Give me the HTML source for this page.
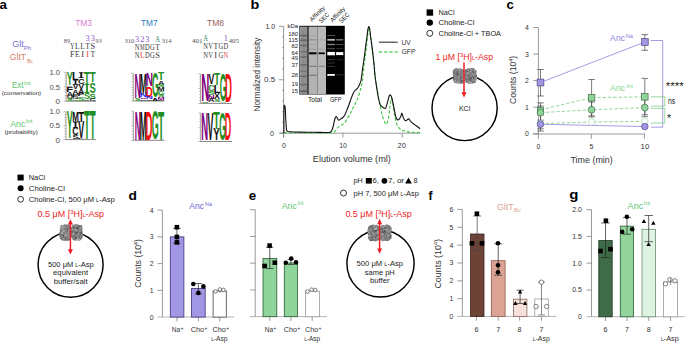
<!DOCTYPE html>
<html><head><meta charset="utf-8"><title>Figure</title>
<style>
html,body{margin:0;padding:0;background:#fff;width:685px;height:343px;overflow:hidden}
svg{display:block;font-family:"Liberation Sans",sans-serif}
</style></head><body>
<svg width="685" height="343" viewBox="0 0 685 343">
<text transform="translate(-0.6,8.8) scale(1.12,1)" font-size="12" font-weight="bold" fill="#000">a</text>
<text transform="translate(250.6,8.8) scale(1.2,1)" font-size="12" font-weight="bold" fill="#000">b</text>
<text transform="translate(506.6,8.8) scale(1.1,1)" font-size="12" font-weight="bold" fill="#000">c</text>
<text transform="translate(128.6,199.6) scale(1.15,1)" font-size="12" font-weight="bold" fill="#000">d</text>
<text transform="translate(248.7,199.8) scale(1.12,1)" font-size="12" font-weight="bold" fill="#000">e</text>
<text transform="translate(428.4,199.5) scale(1.0,1)" font-size="12" font-weight="bold" fill="#000">f</text>
<text transform="translate(569.3,199.4) scale(1.25,1)" font-size="12" font-weight="bold" fill="#000">g</text>
<text x="75.2" y="26.3" font-size="8.5" fill="#e07ad4" textLength="16.8" lengthAdjust="spacingAndGlyphs">TM3</text>
<text x="141" y="26.3" font-size="8.5" fill="#2f7ec4" textLength="16.7" lengthAdjust="spacingAndGlyphs">TM7</text>
<text x="207" y="26.3" font-size="8.5" fill="#9e6358" textLength="17" lengthAdjust="spacingAndGlyphs">TM8</text>
<text x="12.2" y="47.4" font-size="8.4" fill="#7a6fd8" textLength="11.5" lengthAdjust="spacingAndGlyphs">Glt</text>
<text x="23.8" y="49.7" font-size="5.6" fill="#7a6fd8" textLength="7.4" lengthAdjust="spacingAndGlyphs">Ph</text>
<text x="9.8" y="59.7" font-size="8.4" fill="#d4806c" textLength="16.3" lengthAdjust="spacingAndGlyphs">GltT</text>
<text x="26.9" y="62.5" font-size="5.6" fill="#d4806c" textLength="6" lengthAdjust="spacingAndGlyphs">Bc</text>
<text x="11.9" y="88.1" font-size="8.4" fill="#5cc46a" textLength="11.7" lengthAdjust="spacingAndGlyphs">Ext</text>
<text x="24.1" y="84.6" font-size="5.3" fill="#5cc46a" textLength="6.5" lengthAdjust="spacingAndGlyphs">Int</text>
<text x="1.8" y="95" font-size="6.2" fill="#333" textLength="39.4" lengthAdjust="spacingAndGlyphs">(conservation)</text>
<text x="10.3" y="127.4" font-size="8.4" fill="#5cc46a" textLength="15" lengthAdjust="spacingAndGlyphs">Anc</text>
<text x="25.9" y="123.3" font-size="5.3" fill="#5cc46a" textLength="6.5" lengthAdjust="spacingAndGlyphs">Int</text>
<text x="4.4" y="134" font-size="6.2" fill="#333" textLength="33.5" lengthAdjust="spacingAndGlyphs">(probability)</text>
<text x="60" y="75.1" font-size="8" fill="#4a4a4a" text-anchor="end" textLength="10.6" lengthAdjust="spacingAndGlyphs">1.0</text>
<text x="60" y="89.55" font-size="8" fill="#4a4a4a" text-anchor="end" textLength="10.6" lengthAdjust="spacingAndGlyphs">0.5</text>
<text x="60" y="104" font-size="8" fill="#4a4a4a" text-anchor="end">0</text>
<text x="60" y="113.5" font-size="8" fill="#4a4a4a" text-anchor="end" textLength="10.6" lengthAdjust="spacingAndGlyphs">1.0</text>
<text x="60" y="128.1" font-size="8" fill="#4a4a4a" text-anchor="end" textLength="10.6" lengthAdjust="spacingAndGlyphs">0.5</text>
<text x="60" y="142.7" font-size="8" fill="#4a4a4a" text-anchor="end">0</text>
<text x="63.8" y="43.4" font-size="5.4" fill="#555" font-family="Liberation Serif" textLength="6.2" lengthAdjust="spacingAndGlyphs">89</text>
<text x="72.35" y="48.9" font-size="8.4" fill="#3a3a3a" text-anchor="middle" font-family="Liberation Serif" textLength="4.7" lengthAdjust="spacingAndGlyphs">Y</text>
<text x="77.45" y="48.9" font-size="8.4" fill="#3a3a3a" text-anchor="middle" font-family="Liberation Serif" textLength="4.7" lengthAdjust="spacingAndGlyphs">L</text>
<text x="82.55" y="48.9" font-size="8.4" fill="#3a3a3a" text-anchor="middle" font-family="Liberation Serif" textLength="4.7" lengthAdjust="spacingAndGlyphs">L</text>
<text x="87.65" y="48.9" font-size="8.4" fill="#3a3a3a" text-anchor="middle" font-family="Liberation Serif" textLength="4.7" lengthAdjust="spacingAndGlyphs">T</text>
<text x="92.75" y="48.9" font-size="8.4" fill="#3a3a3a" text-anchor="middle" font-family="Liberation Serif">S</text>
<text x="72.35" y="57.2" font-size="8.4" fill="#3a3a3a" text-anchor="middle" font-family="Liberation Serif">F</text>
<text x="77.45" y="57.2" font-size="8.4" fill="#3a3a3a" text-anchor="middle" font-family="Liberation Serif" textLength="4.7" lengthAdjust="spacingAndGlyphs">E</text>
<text x="82.55" y="57.2" font-size="8.4" fill="#3a3a3a" text-anchor="middle" font-family="Liberation Serif">I</text>
<text x="87.65" y="57.2" font-size="8.4" fill="#e8433a" text-anchor="middle" font-family="Liberation Serif">I</text>
<text x="92.75" y="57.2" font-size="8.4" fill="#3a3a3a" text-anchor="middle" font-family="Liberation Serif" textLength="4.7" lengthAdjust="spacingAndGlyphs">T</text>
<text x="87.65" y="41.4" font-size="8.4" fill="#8a55c8" text-anchor="middle" font-family="Liberation Serif">3</text>
<text x="92.75" y="41.4" font-size="8.4" fill="#8a55c8" text-anchor="middle" font-family="Liberation Serif">3</text>
<text x="95.6" y="43.4" font-size="5.4" fill="#555" font-family="Liberation Serif" textLength="6.1" lengthAdjust="spacingAndGlyphs">93</text>
<text x="124.5" y="43.4" font-size="5.4" fill="#555" font-family="Liberation Serif" textLength="9.9" lengthAdjust="spacingAndGlyphs">310</text>
<text x="137.15" y="49.8" font-size="8.4" fill="#3a3a3a" text-anchor="middle" font-family="Liberation Serif" textLength="4.7" lengthAdjust="spacingAndGlyphs">N</text>
<text x="142.25" y="49.8" font-size="8.4" fill="#3a3a3a" text-anchor="middle" font-family="Liberation Serif" textLength="4.7" lengthAdjust="spacingAndGlyphs">M</text>
<text x="147.35" y="49.8" font-size="8.4" fill="#3a3a3a" text-anchor="middle" font-family="Liberation Serif" textLength="4.7" lengthAdjust="spacingAndGlyphs">D</text>
<text x="152.45" y="49.8" font-size="8.4" fill="#3a3a3a" text-anchor="middle" font-family="Liberation Serif" textLength="4.7" lengthAdjust="spacingAndGlyphs">G</text>
<text x="157.55" y="49.8" font-size="8.4" fill="#3a3a3a" text-anchor="middle" font-family="Liberation Serif" textLength="4.7" lengthAdjust="spacingAndGlyphs">T</text>
<text x="137.15" y="57.8" font-size="8.4" fill="#3a3a3a" text-anchor="middle" font-family="Liberation Serif" textLength="4.7" lengthAdjust="spacingAndGlyphs">N</text>
<text x="142.25" y="57.8" font-size="8.4" fill="#e8433a" text-anchor="middle" font-family="Liberation Serif" textLength="4.7" lengthAdjust="spacingAndGlyphs">L</text>
<text x="147.35" y="57.8" font-size="8.4" fill="#3a3a3a" text-anchor="middle" font-family="Liberation Serif" textLength="4.7" lengthAdjust="spacingAndGlyphs">D</text>
<text x="152.45" y="57.8" font-size="8.4" fill="#3a3a3a" text-anchor="middle" font-family="Liberation Serif" textLength="4.7" lengthAdjust="spacingAndGlyphs">G</text>
<text x="157.55" y="57.8" font-size="8.4" fill="#3a3a3a" text-anchor="middle" font-family="Liberation Serif">S</text>
<text x="137.15" y="41.9" font-size="8.4" fill="#8a55c8" text-anchor="middle" font-family="Liberation Serif">3</text>
<text x="142.25" y="41.9" font-size="8.4" fill="#8a55c8" text-anchor="middle" font-family="Liberation Serif">2</text>
<text x="147.35" y="41.9" font-size="8.4" fill="#8a55c8" text-anchor="middle" font-family="Liberation Serif">3</text>
<text x="157.55" y="41.9" font-size="8.4" fill="#2e8a52" text-anchor="middle" font-family="Liberation Serif" textLength="4.7" lengthAdjust="spacingAndGlyphs">A</text>
<text x="161.7" y="43.4" font-size="5.4" fill="#555" font-family="Liberation Serif" textLength="9.9" lengthAdjust="spacingAndGlyphs">314</text>
<text x="191.9" y="43.4" font-size="5.4" fill="#555" font-family="Liberation Serif" textLength="10.6" lengthAdjust="spacingAndGlyphs">401</text>
<text x="205.55" y="49.3" font-size="8.4" fill="#3a3a3a" text-anchor="middle" font-family="Liberation Serif" textLength="4.7" lengthAdjust="spacingAndGlyphs">N</text>
<text x="210.65" y="49.3" font-size="8.4" fill="#3a3a3a" text-anchor="middle" font-family="Liberation Serif" textLength="4.7" lengthAdjust="spacingAndGlyphs">V</text>
<text x="215.75" y="49.3" font-size="8.4" fill="#3a3a3a" text-anchor="middle" font-family="Liberation Serif" textLength="4.7" lengthAdjust="spacingAndGlyphs">T</text>
<text x="220.85" y="49.3" font-size="8.4" fill="#3a3a3a" text-anchor="middle" font-family="Liberation Serif" textLength="4.7" lengthAdjust="spacingAndGlyphs">G</text>
<text x="225.95" y="49.3" font-size="8.4" fill="#3a3a3a" text-anchor="middle" font-family="Liberation Serif" textLength="4.7" lengthAdjust="spacingAndGlyphs">D</text>
<text x="205.55" y="57.8" font-size="8.4" fill="#3a3a3a" text-anchor="middle" font-family="Liberation Serif" textLength="4.7" lengthAdjust="spacingAndGlyphs">N</text>
<text x="210.65" y="57.8" font-size="8.4" fill="#3a3a3a" text-anchor="middle" font-family="Liberation Serif" textLength="4.7" lengthAdjust="spacingAndGlyphs">V</text>
<text x="215.75" y="57.8" font-size="8.4" fill="#3a3a3a" text-anchor="middle" font-family="Liberation Serif">I</text>
<text x="220.85" y="57.8" font-size="8.4" fill="#3a3a3a" text-anchor="middle" font-family="Liberation Serif" textLength="4.7" lengthAdjust="spacingAndGlyphs">G</text>
<text x="225.95" y="57.8" font-size="8.4" fill="#e8433a" text-anchor="middle" font-family="Liberation Serif" textLength="4.7" lengthAdjust="spacingAndGlyphs">N</text>
<text x="205.55" y="41.4" font-size="8.4" fill="#2e8a52" text-anchor="middle" font-family="Liberation Serif" textLength="4.7" lengthAdjust="spacingAndGlyphs">A</text>
<text x="225.95" y="41.4" font-size="8.4" fill="#8a55c8" text-anchor="middle" font-family="Liberation Serif">1</text>
<text x="228.7" y="43.4" font-size="5.4" fill="#555" font-family="Liberation Serif" textLength="10.3" lengthAdjust="spacingAndGlyphs">405</text>
<line x1="66.2" y1="72.3" x2="66.2" y2="101.2" stroke="#666" stroke-width="0.6" />
<line x1="66.2" y1="101.2" x2="96" y2="101.2" stroke="#555" stroke-width="0.7" />
<line x1="63.8" y1="72.3" x2="66.2" y2="72.3" stroke="#777" stroke-width="0.5" />
<line x1="64.7" y1="75.19" x2="66.2" y2="75.19" stroke="#777" stroke-width="0.5" />
<line x1="64.7" y1="78.08" x2="66.2" y2="78.08" stroke="#777" stroke-width="0.5" />
<line x1="64.7" y1="80.97" x2="66.2" y2="80.97" stroke="#777" stroke-width="0.5" />
<line x1="64.7" y1="83.86" x2="66.2" y2="83.86" stroke="#777" stroke-width="0.5" />
<line x1="63.8" y1="86.75" x2="66.2" y2="86.75" stroke="#777" stroke-width="0.5" />
<line x1="64.7" y1="89.64" x2="66.2" y2="89.64" stroke="#777" stroke-width="0.5" />
<line x1="64.7" y1="92.53" x2="66.2" y2="92.53" stroke="#777" stroke-width="0.5" />
<line x1="64.7" y1="95.42" x2="66.2" y2="95.42" stroke="#777" stroke-width="0.5" />
<line x1="64.7" y1="98.31" x2="66.2" y2="98.31" stroke="#777" stroke-width="0.5" />
<line x1="63.8" y1="101.2" x2="66.2" y2="101.2" stroke="#777" stroke-width="0.5" />
<text transform="translate(66.85,85.3) scale(0.0899,0.1875)" font-size="100" font-weight="bold" fill="#1f8f22">Y</text>
<text transform="translate(66.94,87.2) scale(0.0872,0.0247)" font-size="100" font-weight="bold" fill="#111111">V</text>
<text transform="translate(66.25,92.1) scale(0.1124,0.0683)" font-size="100" font-weight="bold" fill="#111111">F</text>
<text transform="translate(66.79,95.6) scale(0.0850,0.0480)" font-size="100" font-weight="bold" fill="#111111">A</text>
<text transform="translate(66.66,97.98) scale(0.0820,0.0313)" font-size="100" font-weight="bold" fill="#111111">Q</text>
<text transform="translate(66.73,100.87) scale(0.0951,0.0297)" font-size="100" font-weight="bold" fill="#1f8f22">S</text>
<text transform="translate(71.97,80) scale(0.1091,0.1105)" font-size="100" font-weight="bold" fill="#111111">L</text>
<rect x="73.15" y="80.2" width="4.7" height="0.6" fill="#111111" stroke="none" stroke-width="0.8" />
<rect x="73.15" y="84.2" width="4.7" height="0.6" fill="#111111" stroke="none" stroke-width="0.8" />
<rect x="74.6" y="80.2" width="1.79" height="4.6" fill="#111111" stroke="none" stroke-width="0.8" />
<text transform="translate(72.64,89.4) scale(0.0857,0.0640)" font-size="100" font-weight="bold" fill="#111111">V</text>
<text transform="translate(72.49,93.6) scale(0.0835,0.0581)" font-size="100" font-weight="bold" fill="#111111">A</text>
<text transform="translate(72.04,96.6) scale(0.0990,0.0407)" font-size="100" font-weight="bold" fill="#111111">P</text>
<text transform="translate(72.36,98.97) scale(0.0830,0.0311)" font-size="100" font-weight="bold" fill="#111111">G</text>
<text transform="translate(72.43,100.88) scale(0.0935,0.0254)" font-size="100" font-weight="bold" fill="#1f8f22">S</text>
<rect x="78.77" y="72.4" width="4.96" height="0.73" fill="#111111" stroke="none" stroke-width="0.8" />
<rect x="78.77" y="77.27" width="4.96" height="0.73" fill="#111111" stroke="none" stroke-width="0.8" />
<rect x="80.31" y="72.4" width="1.89" height="5.6" fill="#111111" stroke="none" stroke-width="0.8" />
<text transform="translate(77.93,83.72) scale(0.0902,0.0791)" font-size="100" font-weight="bold" fill="#111111">C</text>
<text transform="translate(78.24,88.8) scale(0.0903,0.0698)" font-size="100" font-weight="bold" fill="#111111">V</text>
<text transform="translate(78.08,93.6) scale(0.0879,0.0669)" font-size="100" font-weight="bold" fill="#111111">A</text>
<text transform="translate(77.6,96.4) scale(0.1043,0.0378)" font-size="100" font-weight="bold" fill="#111111">P</text>
<text transform="translate(78.02,100.84) scale(0.0985,0.0607)" font-size="100" font-weight="bold" fill="#1f8f22">S</text>
<text transform="translate(84.09,83.6) scale(0.0951,0.1628)" font-size="100" font-weight="bold" fill="#1f8f22">T</text>
<rect x="84.65" y="83.8" width="4.7" height="1.2" fill="#1f8f22" stroke="none" stroke-width="0.8" />
<rect x="84.65" y="91.8" width="4.7" height="1.2" fill="#1f8f22" stroke="none" stroke-width="0.8" />
<rect x="86.1" y="83.8" width="1.79" height="9.2" fill="#1f8f22" stroke="none" stroke-width="0.8" />
<text transform="translate(83.93,98.92) scale(0.0935,0.0819)" font-size="100" font-weight="bold" fill="#1f8f22">S</text>
<text transform="translate(83.85,100.88) scale(0.0857,0.0254)" font-size="100" font-weight="bold" fill="#111111">C</text>
<text transform="translate(89.69,82) scale(0.0968,0.1395)" font-size="100" font-weight="bold" fill="#1f8f22">T</text>
<text transform="translate(89.53,92.85) scale(0.0951,0.1525)" font-size="100" font-weight="bold" fill="#1f8f22">S</text>
<text transform="translate(89.53,98.72) scale(0.0951,0.0791)" font-size="100" font-weight="bold" fill="#1f8f22">S</text>
<text transform="translate(89.44,100.87) scale(0.0872,0.0282)" font-size="100" font-weight="bold" fill="#111111">C</text>
<line x1="66" y1="111.7" x2="66" y2="139.6" stroke="#666" stroke-width="0.6" />
<line x1="66" y1="139.6" x2="96" y2="139.6" stroke="#555" stroke-width="0.7" />
<line x1="63.6" y1="111.7" x2="66" y2="111.7" stroke="#777" stroke-width="0.5" />
<line x1="64.5" y1="114.49" x2="66" y2="114.49" stroke="#777" stroke-width="0.5" />
<line x1="64.5" y1="117.28" x2="66" y2="117.28" stroke="#777" stroke-width="0.5" />
<line x1="64.5" y1="120.07" x2="66" y2="120.07" stroke="#777" stroke-width="0.5" />
<line x1="64.5" y1="122.86" x2="66" y2="122.86" stroke="#777" stroke-width="0.5" />
<line x1="63.6" y1="125.65" x2="66" y2="125.65" stroke="#777" stroke-width="0.5" />
<line x1="64.5" y1="128.44" x2="66" y2="128.44" stroke="#777" stroke-width="0.5" />
<line x1="64.5" y1="131.23" x2="66" y2="131.23" stroke="#777" stroke-width="0.5" />
<line x1="64.5" y1="134.02" x2="66" y2="134.02" stroke="#777" stroke-width="0.5" />
<line x1="64.5" y1="136.81" x2="66" y2="136.81" stroke="#777" stroke-width="0.5" />
<line x1="63.6" y1="139.6" x2="66" y2="139.6" stroke="#777" stroke-width="0.5" />
<text transform="translate(66.85,137.9) scale(0.0899,0.3794)" font-size="100" font-weight="bold" fill="#1f8f22">Y</text>
<text transform="translate(72.16,121.6) scale(0.0801,0.1424)" font-size="100" font-weight="bold" fill="#111111">M</text>
<rect x="73.15" y="121.8" width="4.7" height="0.81" fill="#111111" stroke="none" stroke-width="0.8" />
<rect x="73.15" y="127.19" width="4.7" height="0.81" fill="#111111" stroke="none" stroke-width="0.8" />
<rect x="74.6" y="121.8" width="1.79" height="6.2" fill="#111111" stroke="none" stroke-width="0.8" />
<text transform="translate(72.35,135.3) scale(0.0857,0.1017)" font-size="100" font-weight="bold" fill="#111111">C</text>
<text transform="translate(72.43,139.25) scale(0.0935,0.0523)" font-size="100" font-weight="bold" fill="#111111">S</text>
<text transform="translate(78.19,121.6) scale(0.1002,0.1424)" font-size="100" font-weight="bold" fill="#111111">T</text>
<text transform="translate(78.24,137.9) scale(0.0903,0.2340)" font-size="100" font-weight="bold" fill="#111111">V</text>
<text transform="translate(77.53,139.4) scale(0.1150,0.0203)" font-size="100" font-weight="bold" fill="#111111">L</text>
<text transform="translate(84.09,139.4) scale(0.0951,0.4012)" font-size="100" font-weight="bold" fill="#1f8f22">T</text>
<text transform="translate(89.69,139.4) scale(0.0968,0.4012)" font-size="100" font-weight="bold" fill="#1f8f22">T</text>
<line x1="133.3" y1="73.3" x2="133.3" y2="101" stroke="#666" stroke-width="0.6" />
<line x1="133.3" y1="101" x2="164.5" y2="101" stroke="#555" stroke-width="0.7" />
<line x1="130.9" y1="73.3" x2="133.3" y2="73.3" stroke="#777" stroke-width="0.5" />
<line x1="131.8" y1="76.07" x2="133.3" y2="76.07" stroke="#777" stroke-width="0.5" />
<line x1="131.8" y1="78.84" x2="133.3" y2="78.84" stroke="#777" stroke-width="0.5" />
<line x1="131.8" y1="81.61" x2="133.3" y2="81.61" stroke="#777" stroke-width="0.5" />
<line x1="131.8" y1="84.38" x2="133.3" y2="84.38" stroke="#777" stroke-width="0.5" />
<line x1="130.9" y1="87.15" x2="133.3" y2="87.15" stroke="#777" stroke-width="0.5" />
<line x1="131.8" y1="89.92" x2="133.3" y2="89.92" stroke="#777" stroke-width="0.5" />
<line x1="131.8" y1="92.69" x2="133.3" y2="92.69" stroke="#777" stroke-width="0.5" />
<line x1="131.8" y1="95.46" x2="133.3" y2="95.46" stroke="#777" stroke-width="0.5" />
<line x1="131.8" y1="98.23" x2="133.3" y2="98.23" stroke="#777" stroke-width="0.5" />
<line x1="130.9" y1="101" x2="133.3" y2="101" stroke="#777" stroke-width="0.5" />
<text transform="translate(134.5,98.1) scale(0.0902,0.3590)" font-size="100" font-weight="bold" fill="#800080">N</text>
<text transform="translate(134.85,100.77) scale(0.0885,0.0353)" font-size="100" font-weight="bold" fill="#1f8f22">S</text>
<text transform="translate(139.83,93.9) scale(0.0858,0.2980)" font-size="100" font-weight="bold" fill="#111111">M</text>
<text transform="translate(139.72,97.3) scale(0.1021,0.0465)" font-size="100" font-weight="bold" fill="#2a2ae8">N</text>
<text transform="translate(140.11,98.98) scale(0.1001,0.0212)" font-size="100" font-weight="bold" fill="#800080">S</text>
<text transform="translate(140.02,100.78) scale(0.0918,0.0240)" font-size="100" font-weight="bold" fill="#111111">C</text>
<text transform="translate(145.73,86.4) scale(0.1004,0.1890)" font-size="100" font-weight="bold" fill="#800080">N</text>
<text transform="translate(145.76,96.7) scale(0.0962,0.1468)" font-size="100" font-weight="bold" fill="#fa0a0a">D</text>
<text transform="translate(145.73,99.3) scale(0.1004,0.0349)" font-size="100" font-weight="bold" fill="#2a2ae8">N</text>
<text transform="translate(146.03,100.78) scale(0.0902,0.0198)" font-size="100" font-weight="bold" fill="#111111">C</text>
<text transform="translate(151.95,97.27) scale(0.0860,0.3418)" font-size="100" font-weight="bold" fill="#1f8f22">G</text>
<text transform="translate(152.08,100.8) scale(0.0865,0.0436)" font-size="100" font-weight="bold" fill="#111111">A</text>
<text transform="translate(157.99,80.4) scale(0.1019,0.1017)" font-size="100" font-weight="bold" fill="#1f8f22">T</text>
<text transform="translate(157.88,84.9) scale(0.0894,0.0625)" font-size="100" font-weight="bold" fill="#111111">A</text>
<text transform="translate(157.81,87.27) scale(0.1001,0.0311)" font-size="100" font-weight="bold" fill="#1f8f22">S</text>
<text transform="translate(157.53,91.3) scale(0.0858,0.0552)" font-size="100" font-weight="bold" fill="#111111">M</text>
<text transform="translate(157.74,94.75) scale(0.0889,0.0466)" font-size="100" font-weight="bold" fill="#1f8f22">G</text>
<text transform="translate(157.81,97.17) scale(0.1001,0.0311)" font-size="100" font-weight="bold" fill="#1f8f22">S</text>
<text transform="translate(157.53,99.6) scale(0.0858,0.0320)" font-size="100" font-weight="bold" fill="#800080">M</text>
<text transform="translate(157.72,100.78) scale(0.0918,0.0155)" font-size="100" font-weight="bold" fill="#111111">C</text>
<line x1="133.4" y1="111.2" x2="133.4" y2="140.3" stroke="#666" stroke-width="0.6" />
<line x1="133.4" y1="140.3" x2="164.5" y2="140.3" stroke="#555" stroke-width="0.7" />
<line x1="131" y1="111.2" x2="133.4" y2="111.2" stroke="#777" stroke-width="0.5" />
<line x1="131.9" y1="114.11" x2="133.4" y2="114.11" stroke="#777" stroke-width="0.5" />
<line x1="131.9" y1="117.02" x2="133.4" y2="117.02" stroke="#777" stroke-width="0.5" />
<line x1="131.9" y1="119.93" x2="133.4" y2="119.93" stroke="#777" stroke-width="0.5" />
<line x1="131.9" y1="122.84" x2="133.4" y2="122.84" stroke="#777" stroke-width="0.5" />
<line x1="131" y1="125.75" x2="133.4" y2="125.75" stroke="#777" stroke-width="0.5" />
<line x1="131.9" y1="128.66" x2="133.4" y2="128.66" stroke="#777" stroke-width="0.5" />
<line x1="131.9" y1="131.57" x2="133.4" y2="131.57" stroke="#777" stroke-width="0.5" />
<line x1="131.9" y1="134.48" x2="133.4" y2="134.48" stroke="#777" stroke-width="0.5" />
<line x1="131.9" y1="137.39" x2="133.4" y2="137.39" stroke="#777" stroke-width="0.5" />
<line x1="131" y1="140.3" x2="133.4" y2="140.3" stroke="#777" stroke-width="0.5" />
<text transform="translate(134.73,139.6) scale(0.0850,0.4099)" font-size="100" font-weight="bold" fill="#800080">N</text>
<text transform="translate(139.75,139.6) scale(0.0830,0.4099)" font-size="100" font-weight="bold" fill="#111111">M</text>
<text transform="translate(145.46,139.6) scale(0.0962,0.4099)" font-size="100" font-weight="bold" fill="#fa0a0a">D</text>
<text transform="translate(151.64,139.21) scale(0.0889,0.3983)" font-size="100" font-weight="bold" fill="#1f8f22">G</text>
<text transform="translate(157.89,139.6) scale(0.1019,0.4099)" font-size="100" font-weight="bold" fill="#1f8f22">T</text>
<line x1="200.6" y1="74" x2="200.6" y2="103.4" stroke="#666" stroke-width="0.6" />
<line x1="200.6" y1="103.4" x2="232" y2="103.4" stroke="#555" stroke-width="0.7" />
<line x1="198.2" y1="74" x2="200.6" y2="74" stroke="#777" stroke-width="0.5" />
<line x1="199.1" y1="76.94" x2="200.6" y2="76.94" stroke="#777" stroke-width="0.5" />
<line x1="199.1" y1="79.88" x2="200.6" y2="79.88" stroke="#777" stroke-width="0.5" />
<line x1="199.1" y1="82.82" x2="200.6" y2="82.82" stroke="#777" stroke-width="0.5" />
<line x1="199.1" y1="85.76" x2="200.6" y2="85.76" stroke="#777" stroke-width="0.5" />
<line x1="198.2" y1="88.7" x2="200.6" y2="88.7" stroke="#777" stroke-width="0.5" />
<line x1="199.1" y1="91.64" x2="200.6" y2="91.64" stroke="#777" stroke-width="0.5" />
<line x1="199.1" y1="94.58" x2="200.6" y2="94.58" stroke="#777" stroke-width="0.5" />
<line x1="199.1" y1="97.52" x2="200.6" y2="97.52" stroke="#777" stroke-width="0.5" />
<line x1="199.1" y1="100.46" x2="200.6" y2="100.46" stroke="#777" stroke-width="0.5" />
<line x1="198.2" y1="103.4" x2="200.6" y2="103.4" stroke="#777" stroke-width="0.5" />
<text transform="translate(201.15,101.2) scale(0.1123,0.3953)" font-size="100" font-weight="bold" fill="#800080">N</text>
<text transform="translate(201.58,102.78) scale(0.1101,0.0212)" font-size="100" font-weight="bold" fill="#1f8f22">S</text>
<text transform="translate(208.44,84.4) scale(0.0872,0.1512)" font-size="100" font-weight="bold" fill="#111111">V</text>
<text transform="translate(208.14,91.11) scale(0.0872,0.0932)" font-size="100" font-weight="bold" fill="#1f8f22">C</text>
<text transform="translate(208.23,95.34) scale(0.0951,0.0565)" font-size="100" font-weight="bold" fill="#1f8f22">S</text>
<text transform="translate(207.85,99) scale(0.0970,0.0494)" font-size="100" font-weight="bold" fill="#800080">N</text>
<text transform="translate(208.29,102.4) scale(0.0850,0.0465)" font-size="100" font-weight="bold" fill="#111111">A</text>
<text transform="translate(214.09,85.4) scale(0.0985,0.1657)" font-size="100" font-weight="bold" fill="#1f8f22">T</text>
<text transform="translate(213.44,93.1) scale(0.1130,0.1090)" font-size="100" font-weight="bold" fill="#111111">L</text>
<text transform="translate(214.12,99.4) scale(0.0893,0.0887)" font-size="100" font-weight="bold" fill="#111111">X</text>
<text transform="translate(213.92,102.36) scale(0.0968,0.0395)" font-size="100" font-weight="bold" fill="#1f8f22">S</text>
<text transform="translate(219.65,101.02) scale(0.0845,0.3870)" font-size="100" font-weight="bold" fill="#1f8f22">G</text>
<text transform="translate(219.79,102.8) scale(0.0850,0.0189)" font-size="100" font-weight="bold" fill="#1f8f22">A</text>
<text transform="translate(225.06,101.6) scale(0.0962,0.4012)" font-size="100" font-weight="bold" fill="#fa0a0a">D</text>
<line x1="200.8" y1="113" x2="200.8" y2="141.5" stroke="#666" stroke-width="0.6" />
<line x1="200.8" y1="141.5" x2="232" y2="141.5" stroke="#555" stroke-width="0.7" />
<line x1="198.4" y1="113" x2="200.8" y2="113" stroke="#777" stroke-width="0.5" />
<line x1="199.3" y1="115.85" x2="200.8" y2="115.85" stroke="#777" stroke-width="0.5" />
<line x1="199.3" y1="118.7" x2="200.8" y2="118.7" stroke="#777" stroke-width="0.5" />
<line x1="199.3" y1="121.55" x2="200.8" y2="121.55" stroke="#777" stroke-width="0.5" />
<line x1="199.3" y1="124.4" x2="200.8" y2="124.4" stroke="#777" stroke-width="0.5" />
<line x1="198.4" y1="127.25" x2="200.8" y2="127.25" stroke="#777" stroke-width="0.5" />
<line x1="199.3" y1="130.1" x2="200.8" y2="130.1" stroke="#777" stroke-width="0.5" />
<line x1="199.3" y1="132.95" x2="200.8" y2="132.95" stroke="#777" stroke-width="0.5" />
<line x1="199.3" y1="135.8" x2="200.8" y2="135.8" stroke="#777" stroke-width="0.5" />
<line x1="199.3" y1="138.65" x2="200.8" y2="138.65" stroke="#777" stroke-width="0.5" />
<line x1="198.4" y1="141.5" x2="200.8" y2="141.5" stroke="#777" stroke-width="0.5" />
<text transform="translate(201.36,140.2) scale(0.0953,0.3939)" font-size="100" font-weight="bold" fill="#800080">N</text>
<text transform="translate(207.54,140.2) scale(0.0888,0.3939)" font-size="100" font-weight="bold" fill="#111111">V</text>
<text transform="translate(213.28,129.2) scale(0.1053,0.2340)" font-size="100" font-weight="bold" fill="#1f8f22">T</text>
<text transform="translate(213.23,140.2) scale(0.0978,0.1570)" font-size="100" font-weight="bold" fill="#111111">Y</text>
<text transform="translate(219.25,139.82) scale(0.0845,0.3828)" font-size="100" font-weight="bold" fill="#1f8f22">G</text>
<text transform="translate(224.7,140.2) scale(0.0897,0.3939)" font-size="100" font-weight="bold" fill="#fa0a0a">D</text>
<line x1="283.6" y1="26.3" x2="283.6" y2="137.5" stroke="#707070" stroke-width="0.7" />
<line x1="278.9" y1="133.2" x2="283.6" y2="133.2" stroke="#707070" stroke-width="0.7" />
<line x1="282" y1="122.51" x2="283.6" y2="122.51" stroke="#707070" stroke-width="0.6" />
<line x1="282" y1="111.82" x2="283.6" y2="111.82" stroke="#707070" stroke-width="0.6" />
<line x1="282" y1="101.13" x2="283.6" y2="101.13" stroke="#707070" stroke-width="0.6" />
<line x1="282" y1="90.44" x2="283.6" y2="90.44" stroke="#707070" stroke-width="0.6" />
<line x1="278.9" y1="79.75" x2="283.6" y2="79.75" stroke="#707070" stroke-width="0.7" />
<line x1="282" y1="69.06" x2="283.6" y2="69.06" stroke="#707070" stroke-width="0.6" />
<line x1="282" y1="58.37" x2="283.6" y2="58.37" stroke="#707070" stroke-width="0.6" />
<line x1="282" y1="47.68" x2="283.6" y2="47.68" stroke="#707070" stroke-width="0.6" />
<line x1="282" y1="36.99" x2="283.6" y2="36.99" stroke="#707070" stroke-width="0.6" />
<line x1="278.9" y1="26.3" x2="283.6" y2="26.3" stroke="#707070" stroke-width="0.7" />
<text x="275.2" y="28.8" font-size="7" fill="#333" text-anchor="end" textLength="9.8" lengthAdjust="spacingAndGlyphs">1.0</text>
<text x="275.2" y="82.2" font-size="7" fill="#333" text-anchor="end" textLength="11.2" lengthAdjust="spacingAndGlyphs">0.5</text>
<text x="274" y="135.6" font-size="7" fill="#333" text-anchor="end">0</text>
<line x1="280.1" y1="133.2" x2="420.2" y2="133.2" stroke="#707070" stroke-width="0.7" />
<line x1="283.6" y1="133.2" x2="283.6" y2="137.5" stroke="#707070" stroke-width="0.7" />
<line x1="342.9" y1="133.2" x2="342.9" y2="137.5" stroke="#707070" stroke-width="0.7" />
<line x1="402.3" y1="133.2" x2="402.3" y2="137.5" stroke="#707070" stroke-width="0.7" />
<text x="284" y="147.7" font-size="7" fill="#333" text-anchor="middle">0</text>
<text x="343.1" y="147.7" font-size="7" fill="#333" text-anchor="middle" textLength="7.6" lengthAdjust="spacingAndGlyphs">10</text>
<text x="401.7" y="147.7" font-size="7" fill="#333" text-anchor="middle" textLength="8.2" lengthAdjust="spacingAndGlyphs">20</text>
<text x="312.8" y="161.9" font-size="9" fill="#333" textLength="78" lengthAdjust="spacingAndGlyphs">Elution volume (ml)</text>
<text transform="translate(259.8,74.5) rotate(-90)" x="0" y="0" font-size="8.3" fill="#333" text-anchor="middle" textLength="73.8" lengthAdjust="spacingAndGlyphs">Normalized intensity</text>
<path d="M283.9,133 C284.92,132.97 287.32,132.83 290,132.8 C292.68,132.77 295.83,132.78 300,132.8 C304.17,132.82 310.83,132.87 315,132.9 C319.17,132.93 322.33,133.02 325,133 C327.67,132.98 329.67,132.92 331,132.8 C332.33,132.68 332.33,132.53 333,132.3 C333.67,132.07 334.33,132.03 335,131.4 C335.67,130.77 336.37,129.25 337,128.5 C337.63,127.75 338.05,127.48 338.8,126.9 C339.55,126.32 340.55,125.65 341.5,125 C342.45,124.35 343.5,124.08 344.5,123 C345.5,121.92 346.55,120.07 347.5,118.5 C348.45,116.93 349.45,115.02 350.2,113.6 C350.95,112.18 351.37,111.27 352,110 C352.63,108.73 353.33,107.33 354,106 C354.67,104.67 355.38,103.27 356,102 C356.62,100.73 357.17,99.73 357.7,98.4 C358.23,97.07 358.72,95.57 359.2,94 C359.68,92.43 360.2,90.58 360.6,89 C361,87.42 361.27,86 361.6,84.5 C361.93,83 362.23,82.92 362.6,80 C362.97,77.08 363.32,71.18 363.8,67 C364.28,62.82 365.03,58.57 365.5,54.9 C365.97,51.23 366.27,47.92 366.6,45 C366.93,42.08 367.25,39.73 367.5,37.4 C367.75,35.07 367.9,32.7 368.1,31 C368.3,29.3 368.45,27.62 368.7,27.2 C368.95,26.78 369.27,26.8 369.6,28.5 C369.93,30.2 370.13,33 370.7,37.4 C371.27,41.8 372.18,47.8 373,54.9 C373.82,62 374.83,73.8 375.6,80 C376.37,86.2 376.9,88.12 377.6,92.1 C378.3,96.08 379.05,100.13 379.8,103.9 C380.55,107.67 381.32,111.7 382.1,114.7 C382.88,117.7 383.8,120.33 384.5,121.9 C385.2,123.47 385.65,124.7 386.3,124.1 C386.95,123.5 387.75,121.52 388.4,118.3 C389.05,115.08 389.68,108.1 390.2,104.8 C390.72,101.5 391.03,98.5 391.5,98.5 C391.97,98.5 392.45,101.95 393,104.8 C393.55,107.65 394.2,112.45 394.8,115.6 C395.4,118.75 395.85,121.6 396.6,123.7 C397.35,125.8 398.25,127.05 399.3,128.2 C400.35,129.35 401.4,129.98 402.9,130.6 C404.4,131.22 406.45,131.58 408.3,131.9 C410.15,132.22 412.02,132.35 414,132.5 C415.98,132.65 419.17,132.75 420.2,132.8" stroke="#3cc43c" fill="none" stroke-width="1.1" stroke-dasharray="3.2 1.8" stroke-linejoin="round"/>
<path d="M283.9,133 C283.92,128.77 283.78,111.8 284,107.6 C284.22,103.4 284.9,105.73 285.2,107.8 C285.5,109.87 285.58,116.38 285.8,120 C286.02,123.62 286.22,127.62 286.5,129.5 C286.78,131.38 286.92,130.92 287.5,131.3 C288.08,131.68 287.92,131.67 290,131.8 C292.08,131.93 295.83,132.02 300,132.1 C304.17,132.18 310.83,132.23 315,132.3 C319.17,132.37 322.5,132.52 325,132.5 C327.5,132.48 328.83,132.62 330,132.2 C331.17,131.78 331.42,131.2 332,130 C332.58,128.8 333,126.92 333.5,125 C334,123.08 334.55,119.97 335,118.5 C335.45,117.03 335.78,116.2 336.2,116.2 C336.62,116.2 337.07,117.83 337.5,118.5 C337.93,119.17 338.13,120.2 338.8,120.2 C339.47,120.2 340.55,119.28 341.5,118.5 C342.45,117.72 343.5,117.17 344.5,115.5 C345.5,113.83 346.55,110.87 347.5,108.5 C348.45,106.13 349.45,103.35 350.2,101.3 C350.95,99.25 351.37,97.78 352,96.2 C352.63,94.62 353.33,92.9 354,91.8 C354.67,90.7 355.38,90.23 356,89.6 C356.62,88.97 357.13,88.8 357.7,88 C358.27,87.2 358.83,86.13 359.4,84.8 C359.97,83.47 360.6,82.47 361.1,80 C361.6,77.53 361.98,73 362.4,70 C362.82,67 363.23,64.52 363.6,62 C363.97,59.48 364.23,57.73 364.6,54.9 C364.97,52.07 365.42,47.92 365.8,45 C366.18,42.08 366.57,39.9 366.9,37.4 C367.23,34.9 367.52,31.8 367.8,30 C368.08,28.2 368.3,26.85 368.6,26.6 C368.9,26.35 369.25,26.7 369.6,28.5 C369.95,30.3 370.32,34.48 370.7,37.4 C371.08,40.32 371.52,43.08 371.9,46 C372.28,48.92 372.6,51.4 373,54.9 C373.4,58.4 373.98,63.65 374.3,67 C374.62,70.35 374.5,71.57 374.9,75 C375.3,78.43 376.1,83.68 376.7,87.6 C377.3,91.52 377.9,95.63 378.5,98.5 C379.1,101.37 379.55,103.3 380.3,104.8 C381.05,106.3 382.1,106.97 383,107.5 C383.9,108.03 384.95,108.9 385.7,108 C386.45,107.1 386.9,104.13 387.5,102.1 C388.1,100.07 388.78,96.95 389.3,95.8 C389.82,94.65 390.15,94.75 390.6,95.2 C391.05,95.65 391.45,96.45 392,98.5 C392.55,100.55 393.28,104.5 393.9,107.5 C394.52,110.5 395.1,114.45 395.7,116.5 C396.3,118.55 396.9,119.35 397.5,119.8 C398.1,120.25 398.7,119.9 399.3,119.2 C399.9,118.5 400.65,116.58 401.1,115.6 C401.55,114.62 401.65,113 402,113.3 C402.35,113.6 402.75,116.27 403.2,117.4 C403.65,118.53 404.15,119.58 404.7,120.1 C405.25,120.62 405.83,120.7 406.5,120.5 C407.17,120.3 407.95,118.67 408.7,118.9 C409.45,119.13 410.02,120.95 411,121.9 C411.98,122.85 413.4,123.7 414.6,124.6 C415.8,125.5 417.27,126.62 418.2,127.3 C419.13,127.98 419.87,128.47 420.2,128.7" stroke="#111" fill="none" stroke-width="1.1" stroke-linejoin="round"/>
<line x1="378.9" y1="42.2" x2="397.7" y2="42.2" stroke="#333" stroke-width="1.1" />
<line x1="378.9" y1="52" x2="397.7" y2="52" stroke="#5fd35f" stroke-width="1.3" stroke-dasharray="3.2 2.1"/>
<text x="401.4" y="44.9" font-size="7.8" fill="#333" textLength="9.4" lengthAdjust="spacingAndGlyphs">UV</text>
<text x="401.4" y="54.3" font-size="7.8" fill="#333" textLength="14.3" lengthAdjust="spacingAndGlyphs">GFP</text>
<rect x="299.2" y="25.8" width="45.6" height="68.7" fill="#000" stroke="none" stroke-width="0.8" />
<defs><linearGradient id="lad" x1="0" x2="1" y1="0" y2="0"><stop offset="0" stop-color="#9c9c9c"/><stop offset="0.5" stop-color="#8a8a8a"/><stop offset="1" stop-color="#929292"/></linearGradient><filter id="glow" x="-20%" y="-100%" width="140%" height="300%"><feGaussianBlur stdDeviation="0.45"/></filter></defs>
<rect x="299.5" y="26.6" width="8" height="67.6" fill="url(#lad)" stroke="none" stroke-width="0.8" />
<rect x="300.3" y="34.8" width="6.6" height="1.6" fill="#555" stroke="none" stroke-width="0.8" opacity="0.8" filter="url(#glow)"/>
<rect x="300.3" y="39.5" width="6.6" height="1.6" fill="#555" stroke="none" stroke-width="0.8" opacity="0.8" filter="url(#glow)"/>
<rect x="300.3" y="44.7" width="6.6" height="1.6" fill="#555" stroke="none" stroke-width="0.8" opacity="0.7" filter="url(#glow)"/>
<rect x="300.3" y="51" width="6.6" height="1.6" fill="#555" stroke="none" stroke-width="0.8" opacity="0.5" filter="url(#glow)"/>
<rect x="300.3" y="56.3" width="6.6" height="1.6" fill="#555" stroke="none" stroke-width="0.8" opacity="0.6" filter="url(#glow)"/>
<rect x="300.3" y="64.1" width="6.6" height="1.6" fill="#555" stroke="none" stroke-width="0.8" opacity="0.6" filter="url(#glow)"/>
<rect x="300.3" y="70.5" width="6.6" height="1.6" fill="#555" stroke="none" stroke-width="0.8" opacity="0.4" filter="url(#glow)"/>
<rect x="300.3" y="75.5" width="6.6" height="1.6" fill="#555" stroke="none" stroke-width="0.8" opacity="0.6" filter="url(#glow)"/>
<rect x="300.3" y="83.8" width="6.6" height="1.6" fill="#555" stroke="none" stroke-width="0.8" opacity="0.6" filter="url(#glow)"/>
<rect x="300.3" y="90.5" width="6.6" height="1.6" fill="#555" stroke="none" stroke-width="0.8" opacity="0.9" filter="url(#glow)"/>
<rect x="307.5" y="26.6" width="1.2" height="67.6" fill="#444" stroke="none" stroke-width="0.8" />
<rect x="308.7" y="26.6" width="8.8" height="67.6" fill="#b3b3b3" stroke="none" stroke-width="0.8" />
<rect x="317.5" y="26.6" width="8.5" height="67.6" fill="#b9b9b9" stroke="none" stroke-width="0.8" />
<rect x="309.1" y="52.3" width="7.5" height="2" fill="#000" stroke="none" stroke-width="0.8" opacity="1" filter="url(#glow)"/>
<rect x="318.4" y="52.4" width="6.4" height="1.8" fill="#000" stroke="none" stroke-width="0.8" opacity="0.95" filter="url(#glow)"/>
<rect x="309.1" y="65.8" width="7.5" height="1" fill="#707070" stroke="none" stroke-width="0.8" opacity="0.9" filter="url(#glow)"/>
<rect x="318.4" y="65.8" width="6.4" height="1" fill="#707070" stroke="none" stroke-width="0.8" opacity="0.8" filter="url(#glow)"/>
<rect x="309.1" y="74.65" width="7.5" height="1.1" fill="#6a6a6a" stroke="none" stroke-width="0.8" opacity="0.9" filter="url(#glow)"/>
<rect x="309.1" y="39.2" width="7.5" height="1.2" fill="#8a8a8a" stroke="none" stroke-width="0.8" opacity="0.8" filter="url(#glow)"/>
<rect x="318.4" y="39.3" width="6.4" height="1" fill="#9a9a9a" stroke="none" stroke-width="0.8" opacity="0.6" filter="url(#glow)"/>
<rect x="309.1" y="44" width="7.5" height="1" fill="#9a9a9a" stroke="none" stroke-width="0.8" opacity="0.6" filter="url(#glow)"/>
<rect x="309.1" y="48.75" width="7.5" height="0.9" fill="#8a8a8a" stroke="none" stroke-width="0.8" opacity="0.7" filter="url(#glow)"/>
<rect x="318.4" y="48.75" width="6.4" height="0.9" fill="#8a8a8a" stroke="none" stroke-width="0.8" opacity="0.6" filter="url(#glow)"/>
<rect x="309.1" y="35.5" width="7.5" height="1" fill="#9e9e9e" stroke="none" stroke-width="0.8" opacity="0.6" filter="url(#glow)"/>
<rect x="327.3" y="51.9" width="7.6" height="3.4" fill="#fff" stroke="none" stroke-width="0.8" opacity="1" filter="url(#glow)"/>
<rect x="336.1" y="52.1" width="7.2" height="3" fill="#fff" stroke="none" stroke-width="0.8" opacity="1" filter="url(#glow)"/>
<rect x="327.3" y="74" width="7.6" height="1.8" fill="#fff" stroke="none" stroke-width="0.8" opacity="1" filter="url(#glow)"/>
<rect x="336.1" y="74.4" width="7.2" height="1" fill="#383838" stroke="none" stroke-width="0.8" opacity="1" filter="url(#glow)"/>
<rect x="327.3" y="38.9" width="7.6" height="1.8" fill="#b8b8b8" stroke="none" stroke-width="0.8" opacity="1" filter="url(#glow)"/>
<rect x="336.1" y="39.15" width="7.2" height="1.3" fill="#808080" stroke="none" stroke-width="0.8" opacity="1" filter="url(#glow)"/>
<rect x="327.3" y="43.9" width="7.6" height="1.2" fill="#8a8a8a" stroke="none" stroke-width="0.8" opacity="1" filter="url(#glow)"/>
<rect x="336.1" y="44" width="7.2" height="1" fill="#505050" stroke="none" stroke-width="0.8" opacity="1" filter="url(#glow)"/>
<rect x="327.3" y="48.2" width="7.6" height="1" fill="#555" stroke="none" stroke-width="0.8" opacity="1" filter="url(#glow)"/>
<rect x="336.1" y="48.3" width="7.2" height="0.8" fill="#3a3a3a" stroke="none" stroke-width="0.8" opacity="1" filter="url(#glow)"/>
<rect x="327.3" y="35.1" width="7.6" height="1" fill="#555" stroke="none" stroke-width="0.8" opacity="1" filter="url(#glow)"/>
<rect x="327.3" y="59.25" width="7.6" height="0.9" fill="#404040" stroke="none" stroke-width="0.8" opacity="1" filter="url(#glow)"/>
<rect x="327.3" y="62.55" width="7.6" height="0.9" fill="#383838" stroke="none" stroke-width="0.8" opacity="1" filter="url(#glow)"/>
<rect x="327.3" y="65.85" width="7.6" height="0.9" fill="#3a3a3a" stroke="none" stroke-width="0.8" opacity="1" filter="url(#glow)"/>
<rect x="336.1" y="59.3" width="7.2" height="0.8" fill="#2a2a2a" stroke="none" stroke-width="0.8" opacity="1" filter="url(#glow)"/>
<text x="298" y="27.6" font-size="5.9" fill="#222" text-anchor="end">kDa</text>
<text x="298" y="36.3" font-size="5.9" fill="#222" text-anchor="end">180</text>
<text x="298" y="42.2" font-size="5.9" fill="#222" text-anchor="end">115</text>
<text x="298" y="48" font-size="5.9" fill="#222" text-anchor="end">82</text>
<text x="298" y="55" font-size="5.9" fill="#222" text-anchor="end">64</text>
<text x="298" y="60" font-size="5.9" fill="#222" text-anchor="end">49</text>
<text x="298" y="67.1" font-size="5.9" fill="#222" text-anchor="end">37</text>
<text x="298" y="77.1" font-size="5.9" fill="#222" text-anchor="end">28</text>
<text x="298" y="85.9" font-size="5.9" fill="#222" text-anchor="end">19</text>
<text x="298" y="93.4" font-size="5.9" fill="#222" text-anchor="end">15</text>
<text x="308" y="102" font-size="6.8" fill="#222" textLength="14" lengthAdjust="spacingAndGlyphs">Total</text>
<text x="329.9" y="102" font-size="6.8" fill="#222" textLength="11.7" lengthAdjust="spacingAndGlyphs">GFP</text>
<text transform="translate(312.0,22.0) rotate(-45)" font-size="6.2" fill="#222" textLength="19.0" lengthAdjust="spacingAndGlyphs">Affinity</text>
<text transform="translate(321.2,23.4) rotate(-45)" font-size="6.2" fill="#222" textLength="12.0" lengthAdjust="spacingAndGlyphs">SEC</text>
<text transform="translate(332.4,22.6) rotate(-45)" font-size="6.2" fill="#222" textLength="19.0" lengthAdjust="spacingAndGlyphs">Affinity</text>
<text transform="translate(341.5,23.6) rotate(-45)" font-size="6.2" fill="#222" textLength="12.0" lengthAdjust="spacingAndGlyphs">SEC</text>
<rect x="426.6" y="9.4" width="6.5" height="6.3" fill="#000" stroke="none" stroke-width="0.8" />
<text x="438.4" y="15.1" font-size="7.2" fill="#222" textLength="16.3" lengthAdjust="spacingAndGlyphs">NaCl</text>
<circle cx="429.8" cy="22.6" r="3.2" fill="#000" stroke="none" stroke-width="0.8" />
<text x="438.4" y="25.2" font-size="7.2" fill="#222" textLength="36" lengthAdjust="spacingAndGlyphs">Choline-Cl</text>
<circle cx="429.8" cy="33.3" r="3" fill="#fff" stroke="#000" stroke-width="0.8" />
<text x="438.6" y="35.7" font-size="7.2" fill="#222" textLength="62.4" lengthAdjust="spacingAndGlyphs">Choline-Cl + TBOA</text>
<circle cx="464.6" cy="108" r="32.6" fill="none" stroke="#000" stroke-width="1.45" />
<defs><clipPath id="pc1"><path d="M464.35,76.05 L464.81,79.27 L464.05,80.35 L463.96,81.65 L463.69,82.82 L463.02,83.6 L461.73,83.39 L460.33,83.54 L457.19,83.21 L455.79,83.22 L454.99,82.61 L454.14,82.31 L453.77,81.36 L453.02,80.66 L452.76,79.21 L453.04,76.05 L452.8,72.91 L452.86,71.3 L452.99,69.92 L453.91,69.49 L454.6,68.8 L455.6,68.43 L457.1,68.5 L460.35,68.47 L461.62,68.99 L462.73,69 L463.22,69.92 L464.38,70 L464.15,71.66 L464.25,73.12 Z M477.05,76.05 L476.77,79.33 L476.31,80.68 L475.79,81.63 L475.72,83.07 L474.56,83.05 L473.46,83.1 L472.21,83.64 L468.88,83.96 L467.59,83.33 L466.84,82.61 L465.71,82.68 L465.54,81.44 L464.41,81.04 L464.26,79.4 L464.62,76.05 L464.93,73.06 L465.1,71.63 L464.77,69.84 L465.95,69.74 L466.68,69.21 L467.62,68.83 L468.94,68.46 L472.37,67.72 L473.81,68.16 L474.75,68.72 L474.98,70.05 L476.33,69.9 L476.66,71.13 L476.46,72.93 Z "/></clipPath></defs>
<path d="M464.35,76.05 L464.81,79.27 L464.05,80.35 L463.96,81.65 L463.69,82.82 L463.02,83.6 L461.73,83.39 L460.33,83.54 L457.19,83.21 L455.79,83.22 L454.99,82.61 L454.14,82.31 L453.77,81.36 L453.02,80.66 L452.76,79.21 L453.04,76.05 L452.8,72.91 L452.86,71.3 L452.99,69.92 L453.91,69.49 L454.6,68.8 L455.6,68.43 L457.1,68.5 L460.35,68.47 L461.62,68.99 L462.73,69 L463.22,69.92 L464.38,70 L464.15,71.66 L464.25,73.12 Z M477.05,76.05 L476.77,79.33 L476.31,80.68 L475.79,81.63 L475.72,83.07 L474.56,83.05 L473.46,83.1 L472.21,83.64 L468.88,83.96 L467.59,83.33 L466.84,82.61 L465.71,82.68 L465.54,81.44 L464.41,81.04 L464.26,79.4 L464.62,76.05 L464.93,73.06 L465.1,71.63 L464.77,69.84 L465.95,69.74 L466.68,69.21 L467.62,68.83 L468.94,68.46 L472.37,67.72 L473.81,68.16 L474.75,68.72 L474.98,70.05 L476.33,69.9 L476.66,71.13 L476.46,72.93 Z " fill="#828282"/>
<g clip-path="url(#pc1)">
<circle cx="452.76" cy="70.33" r="1.01" fill="#707070"/>
<circle cx="455.4" cy="78.72" r="0.81" fill="#848484"/>
<circle cx="453.22" cy="77.92" r="0.63" fill="#4e4e4e"/>
<circle cx="467.35" cy="71.41" r="0.96" fill="#a8a8a8"/>
<circle cx="458.21" cy="73.75" r="0.62" fill="#a8a8a8"/>
<circle cx="473.94" cy="79.19" r="0.6" fill="#707070"/>
<circle cx="467.62" cy="80.87" r="0.5" fill="#707070"/>
<circle cx="453.37" cy="83.39" r="0.62" fill="#848484"/>
<circle cx="459.38" cy="75.77" r="0.51" fill="#767676"/>
<circle cx="473.44" cy="71.6" r="0.57" fill="#b4b4b4"/>
<circle cx="460.44" cy="69.28" r="0.69" fill="#5e5e5e"/>
<circle cx="462.09" cy="77.98" r="1.14" fill="#5e5e5e"/>
<circle cx="453.65" cy="81.98" r="0.49" fill="#a8a8a8"/>
<circle cx="457.22" cy="73.99" r="0.65" fill="#5e5e5e"/>
<circle cx="460.85" cy="79.33" r="0.56" fill="#9a9a9a"/>
<circle cx="457.21" cy="73.66" r="1.01" fill="#707070"/>
<circle cx="462.07" cy="80.14" r="0.95" fill="#767676"/>
<circle cx="467.22" cy="74.85" r="0.78" fill="#b4b4b4"/>
<circle cx="454.34" cy="81.77" r="0.85" fill="#767676"/>
<circle cx="471.61" cy="69.26" r="0.43" fill="#6a6a6a"/>
<circle cx="467" cy="69.96" r="1.09" fill="#848484"/>
<circle cx="460.12" cy="70.78" r="0.41" fill="#b4b4b4"/>
<circle cx="454.18" cy="81.75" r="0.88" fill="#767676"/>
<circle cx="476.05" cy="77.42" r="0.98" fill="#6a6a6a"/>
<circle cx="467.58" cy="71.39" r="1.03" fill="#4e4e4e"/>
<circle cx="464.45" cy="84.12" r="0.5" fill="#6a6a6a"/>
<circle cx="473.77" cy="81.57" r="0.4" fill="#5e5e5e"/>
<circle cx="473.73" cy="82.04" r="0.8" fill="#707070"/>
<circle cx="470.75" cy="73.61" r="0.59" fill="#848484"/>
<circle cx="467.63" cy="75.12" r="0.6" fill="#b4b4b4"/>
<circle cx="473.14" cy="70.56" r="0.4" fill="#5e5e5e"/>
<circle cx="464.35" cy="73.55" r="0.57" fill="#707070"/>
<circle cx="457.38" cy="79.55" r="0.77" fill="#767676"/>
<circle cx="464.1" cy="70.92" r="0.86" fill="#707070"/>
<circle cx="463.18" cy="80.93" r="0.71" fill="#5e5e5e"/>
<circle cx="456.63" cy="68.52" r="0.92" fill="#a8a8a8"/>
<circle cx="453.34" cy="78.68" r="0.81" fill="#6a6a6a"/>
<circle cx="460.06" cy="78.82" r="1.13" fill="#5e5e5e"/>
<circle cx="458.77" cy="84.18" r="0.48" fill="#5e5e5e"/>
<circle cx="457.66" cy="81.49" r="0.58" fill="#b4b4b4"/>
<circle cx="473.13" cy="69.08" r="0.95" fill="#848484"/>
<circle cx="466.41" cy="79.18" r="0.74" fill="#4e4e4e"/>
<circle cx="467.86" cy="76.52" r="1.14" fill="#848484"/>
<circle cx="471.94" cy="71.04" r="0.81" fill="#9a9a9a"/>
<circle cx="471.15" cy="77.9" r="0.82" fill="#767676"/>
<circle cx="467.57" cy="68.28" r="0.59" fill="#4e4e4e"/>
<circle cx="461.99" cy="70.72" r="0.72" fill="#848484"/>
<circle cx="464.46" cy="83.71" r="0.59" fill="#4e4e4e"/>
<circle cx="467.45" cy="75.18" r="0.67" fill="#4e4e4e"/>
<circle cx="452.57" cy="72.15" r="0.55" fill="#4e4e4e"/>
<circle cx="468.01" cy="77.12" r="0.8" fill="#4e4e4e"/>
<circle cx="465.76" cy="68.39" r="1.13" fill="#4e4e4e"/>
<circle cx="463.09" cy="76.84" r="0.58" fill="#707070"/>
<circle cx="459.2" cy="75.52" r="0.89" fill="#b4b4b4"/>
<circle cx="472.28" cy="78.74" r="0.48" fill="#767676"/>
<circle cx="464.49" cy="81.85" r="0.88" fill="#4e4e4e"/>
<circle cx="460.65" cy="80.6" r="0.79" fill="#767676"/>
<circle cx="454.98" cy="82.3" r="1.12" fill="#6a6a6a"/>
<circle cx="462.64" cy="76.89" r="0.73" fill="#a8a8a8"/>
<circle cx="472.99" cy="69.65" r="0.83" fill="#767676"/>
<circle cx="463.38" cy="74.72" r="1.15" fill="#848484"/>
<circle cx="467.14" cy="72.19" r="0.43" fill="#9a9a9a"/>
<circle cx="470.6" cy="82.89" r="1.12" fill="#b4b4b4"/>
<circle cx="467.24" cy="70.07" r="0.42" fill="#5e5e5e"/>
<circle cx="468.76" cy="82.32" r="1.09" fill="#b4b4b4"/>
<circle cx="470.41" cy="71.59" r="0.78" fill="#a8a8a8"/>
<circle cx="470.12" cy="74.4" r="0.65" fill="#6a6a6a"/>
<circle cx="463.57" cy="80.39" r="0.54" fill="#a8a8a8"/>
<circle cx="455.03" cy="77.49" r="0.54" fill="#9a9a9a"/>
<circle cx="452.98" cy="75.98" r="0.73" fill="#767676"/>
<circle cx="464.61" cy="70.82" r="0.77" fill="#767676"/>
<circle cx="461.08" cy="70.82" r="0.78" fill="#9a9a9a"/>
<circle cx="472.03" cy="67.86" r="0.53" fill="#a8a8a8"/>
<circle cx="474.23" cy="77.58" r="0.73" fill="#6a6a6a"/>
<circle cx="454.54" cy="77.16" r="0.78" fill="#b4b4b4"/>
<circle cx="473.56" cy="71.43" r="0.52" fill="#848484"/>
<circle cx="466.69" cy="69.89" r="0.74" fill="#6a6a6a"/>
<circle cx="469.51" cy="70.42" r="0.62" fill="#5e5e5e"/>
<circle cx="459.34" cy="78.53" r="1" fill="#a8a8a8"/>
<circle cx="473.98" cy="77.54" r="0.79" fill="#4e4e4e"/>
<circle cx="463.65" cy="72.82" r="0.79" fill="#5e5e5e"/>
<circle cx="460.23" cy="68.58" r="1.07" fill="#9a9a9a"/>
<circle cx="464.63" cy="78.39" r="0.81" fill="#707070"/>
<circle cx="463.73" cy="72.5" r="0.61" fill="#b4b4b4"/>
<circle cx="476.2" cy="77.7" r="0.95" fill="#6a6a6a"/>
<circle cx="468.65" cy="76.37" r="0.68" fill="#a8a8a8"/>
<circle cx="468.41" cy="70.6" r="0.63" fill="#9a9a9a"/>
<circle cx="467.97" cy="77.23" r="0.98" fill="#a8a8a8"/>
<circle cx="460.47" cy="77.93" r="1.03" fill="#5e5e5e"/>
<circle cx="470.58" cy="78.29" r="0.93" fill="#4e4e4e"/>
<circle cx="463.65" cy="83.27" r="0.5" fill="#a8a8a8"/>
<circle cx="461.96" cy="81.19" r="1.03" fill="#4e4e4e"/>
<circle cx="459.86" cy="75.7" r="0.85" fill="#5e5e5e"/>
<circle cx="463.12" cy="78.93" r="0.89" fill="#b4b4b4"/>
<circle cx="464.12" cy="79.78" r="0.8" fill="#6a6a6a"/>
<circle cx="473" cy="80.4" r="0.89" fill="#a8a8a8"/>
<circle cx="457.68" cy="74.42" r="1.09" fill="#4e4e4e"/>
<circle cx="456.08" cy="70.44" r="0.52" fill="#848484"/>
<circle cx="455.2" cy="80.15" r="1.04" fill="#767676"/>
<circle cx="453.37" cy="72.84" r="0.44" fill="#4e4e4e"/>
<circle cx="474.09" cy="83.46" r="0.63" fill="#5e5e5e"/>
<circle cx="454.76" cy="72.91" r="0.67" fill="#6a6a6a"/>
<circle cx="459.26" cy="69.74" r="0.71" fill="#a8a8a8"/>
<circle cx="459.12" cy="82.73" r="0.87" fill="#9a9a9a"/>
<circle cx="472.2" cy="70.74" r="0.8" fill="#9a9a9a"/>
<circle cx="474.93" cy="78.28" r="0.43" fill="#b4b4b4"/>
<circle cx="470.86" cy="69.43" r="0.88" fill="#a8a8a8"/>
<circle cx="465.29" cy="71.49" r="1.07" fill="#767676"/>
<circle cx="465.67" cy="73.79" r="0.73" fill="#707070"/>
<circle cx="454.01" cy="81.69" r="0.51" fill="#6a6a6a"/>
<circle cx="473.47" cy="83.3" r="0.95" fill="#767676"/>
<circle cx="463.53" cy="81.53" r="1.08" fill="#9a9a9a"/>
<circle cx="457.21" cy="72.37" r="1.08" fill="#6a6a6a"/>
<circle cx="469.45" cy="78.58" r="1.1" fill="#5e5e5e"/>
<circle cx="466.72" cy="76.8" r="1.1" fill="#9a9a9a"/>
<circle cx="460.71" cy="75.97" r="0.5" fill="#5e5e5e"/>
<circle cx="466.05" cy="82.67" r="1.05" fill="#6a6a6a"/>
<circle cx="475.53" cy="81.09" r="0.86" fill="#a8a8a8"/>
<circle cx="466.87" cy="75.77" r="0.7" fill="#848484"/>
<circle cx="455.48" cy="79.06" r="0.46" fill="#b4b4b4"/>
<circle cx="454.97" cy="80.99" r="1.04" fill="#a8a8a8"/>
<circle cx="476.18" cy="78.22" r="1.11" fill="#b4b4b4"/>
<circle cx="470.87" cy="83.96" r="1.07" fill="#b4b4b4"/>
<circle cx="459.65" cy="68.01" r="0.74" fill="#b4b4b4"/>
<circle cx="467.99" cy="81.77" r="0.72" fill="#a8a8a8"/>
<circle cx="469.68" cy="69.37" r="0.67" fill="#9a9a9a"/>
<circle cx="463.64" cy="71.48" r="0.88" fill="#6a6a6a"/>
<circle cx="467.19" cy="76.02" r="1.11" fill="#767676"/>
<circle cx="464.75" cy="70.29" r="0.41" fill="#a8a8a8"/>
<circle cx="455.45" cy="69.43" r="0.87" fill="#767676"/>
<circle cx="459.67" cy="76.99" r="1.11" fill="#848484"/>
<circle cx="460.15" cy="77.74" r="0.78" fill="#848484"/>
<circle cx="472.57" cy="74.55" r="0.95" fill="#a8a8a8"/>
<circle cx="466.77" cy="78.09" r="0.46" fill="#9a9a9a"/>
<circle cx="465.45" cy="76.19" r="0.47" fill="#848484"/>
<circle cx="455.96" cy="79.71" r="0.46" fill="#707070"/>
<circle cx="458.21" cy="83.68" r="0.43" fill="#4e4e4e"/>
<circle cx="473.89" cy="71.22" r="1.08" fill="#b4b4b4"/>
<circle cx="470.08" cy="79.09" r="0.54" fill="#4e4e4e"/>
<circle cx="463.84" cy="74.68" r="0.49" fill="#b4b4b4"/>
<circle cx="468.16" cy="70.38" r="0.75" fill="#b4b4b4"/>
<circle cx="461.08" cy="83.8" r="1.01" fill="#5e5e5e"/>
<circle cx="453.45" cy="68.21" r="1.07" fill="#6a6a6a"/>
<circle cx="470.8" cy="80.21" r="1.02" fill="#6a6a6a"/>
<circle cx="473.25" cy="71.79" r="0.98" fill="#4e4e4e"/>
<circle cx="472.64" cy="76.68" r="0.57" fill="#848484"/>
<circle cx="476.47" cy="68.06" r="0.67" fill="#6a6a6a"/>
<circle cx="475.11" cy="76.18" r="0.5" fill="#9a9a9a"/>
<circle cx="474.79" cy="74.4" r="0.79" fill="#b4b4b4"/>
<circle cx="470.95" cy="70.38" r="0.41" fill="#5e5e5e"/>
<circle cx="474.04" cy="73.99" r="1.07" fill="#848484"/>
<circle cx="468.72" cy="68.35" r="0.88" fill="#5e5e5e"/>
<circle cx="467.88" cy="73.09" r="0.79" fill="#b4b4b4"/>
<circle cx="476.62" cy="83.81" r="0.58" fill="#767676"/>
<circle cx="468.37" cy="76.26" r="1.09" fill="#6a6a6a"/>
<circle cx="476.39" cy="75.74" r="0.91" fill="#6a6a6a"/>
<circle cx="468.11" cy="81.7" r="1.11" fill="#848484"/>
<circle cx="472.6" cy="81.52" r="1.12" fill="#767676"/>
<circle cx="465.85" cy="69.97" r="0.61" fill="#5e5e5e"/>
<circle cx="460.05" cy="74.96" r="0.63" fill="#a8a8a8"/>
<circle cx="472.31" cy="76.04" r="0.73" fill="#5e5e5e"/>
<circle cx="464.38" cy="79.94" r="1.11" fill="#a8a8a8"/>
<circle cx="454.12" cy="77.33" r="1.05" fill="#707070"/>
<circle cx="452.81" cy="68.29" r="1.14" fill="#5e5e5e"/>
<circle cx="459.99" cy="74.18" r="0.51" fill="#707070"/>
<circle cx="458.66" cy="80.64" r="0.61" fill="#848484"/>
<circle cx="475.23" cy="77.8" r="0.55" fill="#6a6a6a"/>
<circle cx="459.3" cy="83.17" r="1.05" fill="#9a9a9a"/>
<circle cx="455.87" cy="69.41" r="0.41" fill="#a8a8a8"/>
<circle cx="456.18" cy="67.93" r="1.01" fill="#767676"/>
</g>
<text x="435.5" y="60.2" font-size="8.6" fill="#ee1d25" textLength="57.6" lengthAdjust="spacingAndGlyphs">1 μM [<tspan font-size="5.8" dy="-3.2">3</tspan><tspan dy="3.2">H]</tspan><tspan font-size="5.4">L</tspan>-Asp</text>
<line x1="464" y1="62.5" x2="464" y2="93.5" stroke="#ee1d25" stroke-width="1.5" />
<path d="M461.5,92.2 L466.5,92.2 L464.0,97.6 Z" stroke="none" fill="#ee1d25" stroke-width="0.8" />
<text x="458.9" y="110.8" font-size="7" fill="#222" textLength="11.3" lengthAdjust="spacingAndGlyphs">KCl</text>
<line x1="538.4" y1="27.5" x2="538.4" y2="134" stroke="#707070" stroke-width="0.7" />
<line x1="533.2" y1="133.7" x2="538.4" y2="133.7" stroke="#707070" stroke-width="0.7" />
<text x="528.8" y="136.15" font-size="6.9" fill="#333" text-anchor="end">0</text>
<line x1="533.2" y1="107.15" x2="538.4" y2="107.15" stroke="#707070" stroke-width="0.7" />
<text x="528.8" y="109.6" font-size="6.9" fill="#333" text-anchor="end">1</text>
<line x1="533.2" y1="80.6" x2="538.4" y2="80.6" stroke="#707070" stroke-width="0.7" />
<text x="528.8" y="83.05" font-size="6.9" fill="#333" text-anchor="end">2</text>
<line x1="533.2" y1="54.05" x2="538.4" y2="54.05" stroke="#707070" stroke-width="0.7" />
<text x="528.8" y="56.5" font-size="6.9" fill="#333" text-anchor="end">3</text>
<line x1="533.2" y1="27.5" x2="538.4" y2="27.5" stroke="#707070" stroke-width="0.7" />
<text x="528.8" y="29.95" font-size="6.9" fill="#333" text-anchor="end">4</text>
<line x1="532.6" y1="134" x2="645" y2="134" stroke="#707070" stroke-width="0.7" />
<line x1="538.3" y1="134" x2="538.3" y2="138.8" stroke="#707070" stroke-width="0.7" />
<line x1="591.3" y1="134" x2="591.3" y2="138.8" stroke="#707070" stroke-width="0.7" />
<line x1="644.4" y1="134" x2="644.4" y2="138.8" stroke="#707070" stroke-width="0.7" />
<text x="538.5" y="148.85" font-size="6.9" fill="#333" text-anchor="middle">0</text>
<text x="591.5" y="148.85" font-size="6.9" fill="#333" text-anchor="middle">5</text>
<text x="644.9" y="148.85" font-size="6.9" fill="#333" text-anchor="middle" textLength="8.6" lengthAdjust="spacingAndGlyphs">10</text>
<text x="570.5" y="163.3" font-size="8.6" fill="#333" textLength="42.3" lengthAdjust="spacingAndGlyphs">Time (min)</text>
<text transform="translate(515.6,79.9) rotate(-90)" x="0" y="0" font-size="8.2" fill="#333" text-anchor="middle" textLength="48.2" lengthAdjust="spacingAndGlyphs">Counts (10<tspan font-size="5" dy="-3">4</tspan><tspan dy="3">)</tspan></text>
<line x1="540.5" y1="69.5" x2="540.5" y2="96" stroke="#444" stroke-width="0.7" />
<line x1="537.25" y1="69.5" x2="543.75" y2="69.5" stroke="#444" stroke-width="0.7" />
<line x1="537.25" y1="96" x2="543.75" y2="96" stroke="#444" stroke-width="0.7" />
<line x1="540.5" y1="102.9" x2="540.5" y2="120.2" stroke="#444" stroke-width="0.7" />
<line x1="537.25" y1="102.9" x2="543.75" y2="102.9" stroke="#444" stroke-width="0.7" />
<line x1="537.25" y1="120.2" x2="543.75" y2="120.2" stroke="#444" stroke-width="0.7" />
<line x1="540.5" y1="106" x2="540.5" y2="128.8" stroke="#444" stroke-width="0.7" />
<line x1="537.25" y1="106" x2="543.75" y2="106" stroke="#444" stroke-width="0.7" />
<line x1="537.25" y1="128.8" x2="543.75" y2="128.8" stroke="#444" stroke-width="0.7" />
<line x1="540.5" y1="114.8" x2="540.5" y2="131" stroke="#444" stroke-width="0.7" />
<line x1="537.25" y1="114.8" x2="543.75" y2="114.8" stroke="#444" stroke-width="0.7" />
<line x1="537.25" y1="131" x2="543.75" y2="131" stroke="#444" stroke-width="0.7" />
<line x1="591.6" y1="79.5" x2="591.6" y2="115.8" stroke="#444" stroke-width="0.7" />
<line x1="588.35" y1="79.5" x2="594.85" y2="79.5" stroke="#444" stroke-width="0.7" />
<line x1="588.35" y1="115.8" x2="594.85" y2="115.8" stroke="#444" stroke-width="0.7" />
<line x1="591.6" y1="102" x2="591.6" y2="117" stroke="#444" stroke-width="0.7" />
<line x1="588.35" y1="102" x2="594.85" y2="102" stroke="#444" stroke-width="0.7" />
<line x1="588.35" y1="117" x2="594.85" y2="117" stroke="#444" stroke-width="0.7" />
<line x1="644.8" y1="34.6" x2="644.8" y2="50.3" stroke="#444" stroke-width="0.7" />
<line x1="641.55" y1="34.6" x2="648.05" y2="34.6" stroke="#444" stroke-width="0.7" />
<line x1="641.55" y1="50.3" x2="648.05" y2="50.3" stroke="#444" stroke-width="0.7" />
<line x1="644.8" y1="78.4" x2="644.8" y2="114.8" stroke="#444" stroke-width="0.7" />
<line x1="641.55" y1="78.4" x2="648.05" y2="78.4" stroke="#444" stroke-width="0.7" />
<line x1="641.55" y1="114.8" x2="648.05" y2="114.8" stroke="#444" stroke-width="0.7" />
<line x1="644.8" y1="99" x2="644.8" y2="116.7" stroke="#444" stroke-width="0.7" />
<line x1="641.55" y1="99" x2="648.05" y2="99" stroke="#444" stroke-width="0.7" />
<line x1="641.55" y1="116.7" x2="648.05" y2="116.7" stroke="#444" stroke-width="0.7" />
<line x1="540.5" y1="82.5" x2="644.8" y2="42" stroke="#8e83de" stroke-width="0.8" />
<line x1="540.5" y1="124.2" x2="644.8" y2="126.6" stroke="#8e83de" stroke-width="0.8" />
<path d="M540.5,109.8 L591.6,97.7 L644.8,96.8" stroke="#86d08f" fill="none" stroke-width="0.9" stroke-dasharray="3.3 2"/>
<path d="M540.5,112.6 L591.6,109.8 L644.8,107.6" stroke="#86d08f" fill="none" stroke-width="0.9" stroke-dasharray="3.3 2"/>
<path d="M540.5,123.6 L591.6,122.0 L644.8,121.4" stroke="#86d08f" fill="none" stroke-width="0.9" stroke-dasharray="3.3 2"/>
<rect x="537.1" y="79.1" width="6.8" height="6.8" fill="#a297e4" stroke="#3d3478" stroke-width="0.6" />
<rect x="641.4" y="38.6" width="6.8" height="6.8" fill="#a297e4" stroke="#3d3478" stroke-width="0.6" />
<rect x="537.4" y="107.5" width="6.2" height="6.2" fill="#8fd49a" stroke="#2c5a33" stroke-width="0.6" />
<rect x="588.3" y="94.4" width="6.6" height="6.6" fill="#8fd49a" stroke="#2c5a33" stroke-width="0.6" />
<rect x="641.5" y="93.5" width="6.6" height="6.6" fill="#8fd49a" stroke="#2c5a33" stroke-width="0.6" />
<circle cx="540.5" cy="112.6" r="3.4" fill="#8fd49a" stroke="#2c5a33" stroke-width="0.6" />
<circle cx="591.6" cy="109.8" r="3.4" fill="#8fd49a" stroke="#2c5a33" stroke-width="0.6" />
<circle cx="644.8" cy="107.6" r="3.4" fill="#8fd49a" stroke="#2c5a33" stroke-width="0.6" />
<circle cx="540.5" cy="123.6" r="3.2" fill="#fff" stroke="#a8dcb0" stroke-width="0.7" />
<circle cx="591.6" cy="122" r="3.2" fill="#fff" stroke="#a8dcb0" stroke-width="0.7" />
<circle cx="644.8" cy="121.4" r="3.2" fill="#fff" stroke="#a8dcb0" stroke-width="0.7" />
<circle cx="540.5" cy="124.2" r="3.3" fill="#a297e4" stroke="#3d3478" stroke-width="0.6" />
<circle cx="644.8" cy="126.6" r="3.3" fill="#a297e4" stroke="#3d3478" stroke-width="0.6" />
<text x="610.1" y="41.4" font-size="8.5" fill="#8e83de" textLength="15" lengthAdjust="spacingAndGlyphs">Anc</text>
<text x="625.7" y="38.2" font-size="5.4" fill="#8e83de" textLength="7.3" lengthAdjust="spacingAndGlyphs">Na</text>
<text x="610.1" y="90.5" font-size="8.5" fill="#88d492" textLength="15" lengthAdjust="spacingAndGlyphs">Anc</text>
<text x="626.2" y="88" font-size="5.4" fill="#88d492" textLength="6.6" lengthAdjust="spacingAndGlyphs">Int</text>
<path d="M650.9,40.5 L662.7,40.5 L662.7,127.2 L650.9,127.2" stroke="#8e83de" fill="none" stroke-width="0.8" />
<path d="M650.9,96.8 L664.8,96.8 L664.8,106.1 L650.9,106.1" stroke="#7fce8a" fill="none" stroke-width="0.8" />
<path d="M650.9,108.4 L664.8,108.4 L664.8,123.0 L650.9,123.0" stroke="#7fce8a" fill="none" stroke-width="0.8" />
<text x="665.7" y="90" font-size="10.5" fill="#222" textLength="18" lengthAdjust="spacingAndGlyphs">****</text>
<text x="667.9" y="104.3" font-size="8.4" fill="#222" textLength="7.3" lengthAdjust="spacingAndGlyphs">ns</text>
<text x="667.1" y="121.9" font-size="10.5" fill="#222">*</text>
<rect x="17.5" y="174.6" width="6.2" height="5.9" fill="#000" stroke="none" stroke-width="0.8" />
<text x="28.8" y="179.9" font-size="7.2" fill="#222" textLength="16.4" lengthAdjust="spacingAndGlyphs">NaCl</text>
<circle cx="20.6" cy="188.3" r="3" fill="#000" stroke="none" stroke-width="0.8" />
<text x="28.8" y="190.9" font-size="7.2" fill="#222" textLength="36.1" lengthAdjust="spacingAndGlyphs">Choline-Cl</text>
<circle cx="20.6" cy="199.3" r="2.9" fill="#fff" stroke="#000" stroke-width="0.8" />
<text x="28.8" y="201.7" font-size="7.2" fill="#222" textLength="86" lengthAdjust="spacingAndGlyphs">Choline-Cl, 500 μM <tspan font-size="5.2">L</tspan>-Asp</text>
<text x="37.6" y="217.1" font-size="8.6" fill="#ee1d25" textLength="66.4" lengthAdjust="spacingAndGlyphs">0.5 μM [<tspan font-size="5.8" dy="-3.2">3</tspan><tspan dy="3.2">H]</tspan><tspan font-size="5.4">L</tspan>-Asp</text>
<circle cx="70.6" cy="264.7" r="32.5" fill="none" stroke="#000" stroke-width="1.45" />
<defs><clipPath id="pc2"><path d="M71.6,232.5 L70.78,235.6 L71.03,237.45 L70.21,238.11 L70.3,239.77 L69.47,240.32 L68.51,240.85 L67.01,241.01 L63.67,240.61 L62.16,240.69 L61.36,239.89 L60.64,239.29 L60.02,238.53 L59.54,237.47 L59.35,235.87 L59.69,232.5 L59.88,229.43 L59.92,227.85 L60.43,226.93 L60.63,225.71 L61.2,224.81 L62.38,224.9 L63.75,224.79 L66.93,224.39 L68.36,224.53 L69.12,225.34 L70.23,225.32 L70.04,227.08 L70.5,228.01 L71.22,229.15 Z M82.85,232.5 L82.81,235.96 L82.48,237.49 L82.17,238.74 L81.31,239.21 L80.66,239.93 L79.76,240.48 L78.3,240.42 L75.07,240.62 L73.69,240.35 L73.03,239.39 L71.84,239.57 L71.95,237.93 L71.15,237.29 L70.54,235.99 L71.29,232.5 L71.09,229.32 L70.9,227.49 L71.63,226.71 L72.46,226.32 L72.5,224.62 L73.91,225.23 L75.04,224.24 L78.3,224.57 L79.46,225.31 L80.56,225.26 L81.62,225.34 L82.07,226.37 L82.65,227.36 L82.25,229.36 Z "/></clipPath></defs>
<path d="M71.6,232.5 L70.78,235.6 L71.03,237.45 L70.21,238.11 L70.3,239.77 L69.47,240.32 L68.51,240.85 L67.01,241.01 L63.67,240.61 L62.16,240.69 L61.36,239.89 L60.64,239.29 L60.02,238.53 L59.54,237.47 L59.35,235.87 L59.69,232.5 L59.88,229.43 L59.92,227.85 L60.43,226.93 L60.63,225.71 L61.2,224.81 L62.38,224.9 L63.75,224.79 L66.93,224.39 L68.36,224.53 L69.12,225.34 L70.23,225.32 L70.04,227.08 L70.5,228.01 L71.22,229.15 Z M82.85,232.5 L82.81,235.96 L82.48,237.49 L82.17,238.74 L81.31,239.21 L80.66,239.93 L79.76,240.48 L78.3,240.42 L75.07,240.62 L73.69,240.35 L73.03,239.39 L71.84,239.57 L71.95,237.93 L71.15,237.29 L70.54,235.99 L71.29,232.5 L71.09,229.32 L70.9,227.49 L71.63,226.71 L72.46,226.32 L72.5,224.62 L73.91,225.23 L75.04,224.24 L78.3,224.57 L79.46,225.31 L80.56,225.26 L81.62,225.34 L82.07,226.37 L82.65,227.36 L82.25,229.36 Z " fill="#828282"/>
<g clip-path="url(#pc2)">
<circle cx="71.97" cy="238.39" r="0.55" fill="#9a9a9a"/>
<circle cx="62.3" cy="236.08" r="0.59" fill="#9a9a9a"/>
<circle cx="61.67" cy="237.5" r="0.67" fill="#848484"/>
<circle cx="79.28" cy="239.65" r="0.48" fill="#5e5e5e"/>
<circle cx="61.72" cy="232.66" r="0.47" fill="#767676"/>
<circle cx="78.69" cy="228.06" r="0.64" fill="#b4b4b4"/>
<circle cx="70.52" cy="239.33" r="0.99" fill="#5e5e5e"/>
<circle cx="76.47" cy="237.33" r="1.01" fill="#a8a8a8"/>
<circle cx="71.32" cy="231.71" r="0.53" fill="#848484"/>
<circle cx="66.79" cy="238.77" r="0.68" fill="#9a9a9a"/>
<circle cx="71.07" cy="236.19" r="0.59" fill="#6a6a6a"/>
<circle cx="63.5" cy="225.87" r="1.02" fill="#a8a8a8"/>
<circle cx="67.18" cy="239.81" r="1.11" fill="#767676"/>
<circle cx="64.63" cy="225.15" r="0.9" fill="#4e4e4e"/>
<circle cx="71.44" cy="240.18" r="0.89" fill="#a8a8a8"/>
<circle cx="78.84" cy="239.81" r="1.09" fill="#a8a8a8"/>
<circle cx="72.37" cy="224.7" r="0.97" fill="#848484"/>
<circle cx="65.77" cy="239.74" r="0.78" fill="#6a6a6a"/>
<circle cx="66.83" cy="234.06" r="0.71" fill="#848484"/>
<circle cx="69.71" cy="225.23" r="0.72" fill="#a8a8a8"/>
<circle cx="82.09" cy="240.33" r="1.14" fill="#a8a8a8"/>
<circle cx="64.36" cy="233.34" r="0.81" fill="#6a6a6a"/>
<circle cx="63.86" cy="228.52" r="0.91" fill="#6a6a6a"/>
<circle cx="74.33" cy="231.01" r="0.47" fill="#5e5e5e"/>
<circle cx="64.27" cy="240.4" r="0.43" fill="#4e4e4e"/>
<circle cx="75.39" cy="227.32" r="0.73" fill="#707070"/>
<circle cx="66.59" cy="240.53" r="0.88" fill="#6a6a6a"/>
<circle cx="80.22" cy="240.69" r="0.74" fill="#4e4e4e"/>
<circle cx="66.89" cy="231.54" r="0.89" fill="#767676"/>
<circle cx="72.99" cy="234.05" r="1.1" fill="#a8a8a8"/>
<circle cx="72.31" cy="230.51" r="0.68" fill="#6a6a6a"/>
<circle cx="75.99" cy="227.33" r="0.77" fill="#6a6a6a"/>
<circle cx="61.44" cy="233.96" r="0.78" fill="#9a9a9a"/>
<circle cx="78.68" cy="233.59" r="0.96" fill="#9a9a9a"/>
<circle cx="70.28" cy="237.42" r="0.77" fill="#707070"/>
<circle cx="68.8" cy="238.61" r="0.73" fill="#707070"/>
<circle cx="72.14" cy="240.25" r="0.41" fill="#4e4e4e"/>
<circle cx="69.91" cy="228.64" r="0.71" fill="#b4b4b4"/>
<circle cx="69.24" cy="224.15" r="1.02" fill="#6a6a6a"/>
<circle cx="74.62" cy="224.87" r="1" fill="#a8a8a8"/>
<circle cx="72.79" cy="228.64" r="0.58" fill="#767676"/>
<circle cx="73.55" cy="227.54" r="1.1" fill="#5e5e5e"/>
<circle cx="81.65" cy="228.2" r="0.91" fill="#9a9a9a"/>
<circle cx="69.96" cy="230.77" r="1.13" fill="#767676"/>
<circle cx="64.01" cy="237.78" r="0.84" fill="#5e5e5e"/>
<circle cx="69.07" cy="238.22" r="0.67" fill="#a8a8a8"/>
<circle cx="63.78" cy="231.29" r="0.47" fill="#b4b4b4"/>
<circle cx="80.13" cy="236.04" r="0.53" fill="#4e4e4e"/>
<circle cx="78.22" cy="227.21" r="0.61" fill="#707070"/>
<circle cx="78.72" cy="235.92" r="1.13" fill="#848484"/>
<circle cx="80.71" cy="236.52" r="0.54" fill="#707070"/>
<circle cx="75.51" cy="232.07" r="1.11" fill="#767676"/>
<circle cx="63.32" cy="228.75" r="1.04" fill="#b4b4b4"/>
<circle cx="73.95" cy="224.19" r="1.02" fill="#6a6a6a"/>
<circle cx="60.85" cy="238.42" r="0.47" fill="#767676"/>
<circle cx="72.17" cy="237.06" r="0.75" fill="#a8a8a8"/>
<circle cx="65.1" cy="226.3" r="0.51" fill="#5e5e5e"/>
<circle cx="75.14" cy="224.99" r="0.7" fill="#707070"/>
<circle cx="75.53" cy="237.08" r="0.55" fill="#a8a8a8"/>
<circle cx="76.51" cy="232.92" r="1.11" fill="#4e4e4e"/>
<circle cx="63.94" cy="229.48" r="0.46" fill="#6a6a6a"/>
<circle cx="63.44" cy="231.18" r="0.91" fill="#b4b4b4"/>
<circle cx="76.16" cy="225.27" r="0.92" fill="#848484"/>
<circle cx="69.68" cy="229.16" r="1.14" fill="#848484"/>
<circle cx="77.9" cy="228.01" r="0.92" fill="#4e4e4e"/>
<circle cx="67.51" cy="229.43" r="0.93" fill="#4e4e4e"/>
<circle cx="76.61" cy="239.2" r="0.76" fill="#9a9a9a"/>
<circle cx="61.24" cy="229.28" r="0.44" fill="#848484"/>
<circle cx="60.93" cy="225.3" r="0.53" fill="#4e4e4e"/>
<circle cx="81.88" cy="224.25" r="0.95" fill="#767676"/>
<circle cx="65.99" cy="237.84" r="0.84" fill="#6a6a6a"/>
<circle cx="77.73" cy="224.72" r="0.57" fill="#9a9a9a"/>
<circle cx="76.14" cy="238.31" r="0.55" fill="#707070"/>
<circle cx="67.84" cy="236.19" r="0.74" fill="#707070"/>
<circle cx="81.41" cy="238.55" r="0.94" fill="#767676"/>
<circle cx="77.99" cy="239.01" r="0.88" fill="#a8a8a8"/>
<circle cx="67.95" cy="237.58" r="1" fill="#5e5e5e"/>
<circle cx="73.43" cy="239.67" r="0.58" fill="#707070"/>
<circle cx="59.58" cy="233.03" r="0.93" fill="#4e4e4e"/>
<circle cx="74.53" cy="240.39" r="1.02" fill="#848484"/>
<circle cx="65.4" cy="236.04" r="1.03" fill="#9a9a9a"/>
<circle cx="82.73" cy="236.73" r="0.73" fill="#a8a8a8"/>
<circle cx="71.67" cy="234.38" r="0.72" fill="#6a6a6a"/>
<circle cx="77.23" cy="226.46" r="0.55" fill="#a8a8a8"/>
<circle cx="71.53" cy="232.33" r="0.56" fill="#b4b4b4"/>
<circle cx="73.23" cy="240.12" r="0.4" fill="#5e5e5e"/>
<circle cx="67.67" cy="239.94" r="0.56" fill="#4e4e4e"/>
<circle cx="67.71" cy="239.3" r="0.88" fill="#6a6a6a"/>
<circle cx="79.67" cy="225.15" r="0.71" fill="#707070"/>
<circle cx="81.1" cy="225.6" r="0.92" fill="#5e5e5e"/>
<circle cx="66.66" cy="229.69" r="0.91" fill="#767676"/>
<circle cx="63.89" cy="239.17" r="0.56" fill="#707070"/>
<circle cx="63.65" cy="226.51" r="1.13" fill="#9a9a9a"/>
<circle cx="68.72" cy="233.3" r="0.41" fill="#848484"/>
<circle cx="79.07" cy="226.96" r="0.64" fill="#767676"/>
<circle cx="74.74" cy="236.98" r="0.54" fill="#4e4e4e"/>
<circle cx="64.17" cy="239.4" r="0.94" fill="#6a6a6a"/>
<circle cx="81.33" cy="231.94" r="0.79" fill="#707070"/>
<circle cx="72.1" cy="231.21" r="0.89" fill="#848484"/>
<circle cx="72.61" cy="235.07" r="0.48" fill="#848484"/>
<circle cx="75.94" cy="237.77" r="1.07" fill="#4e4e4e"/>
<circle cx="67.93" cy="236.09" r="1.04" fill="#9a9a9a"/>
<circle cx="74.95" cy="236.06" r="1.09" fill="#767676"/>
<circle cx="73.67" cy="225.61" r="0.65" fill="#5e5e5e"/>
<circle cx="60.45" cy="232.28" r="0.78" fill="#9a9a9a"/>
<circle cx="67.48" cy="232.21" r="1.1" fill="#707070"/>
<circle cx="60.72" cy="228.04" r="0.87" fill="#b4b4b4"/>
<circle cx="73.72" cy="239.11" r="0.52" fill="#5e5e5e"/>
<circle cx="64.88" cy="226.32" r="0.99" fill="#a8a8a8"/>
<circle cx="61.23" cy="232.24" r="0.94" fill="#6a6a6a"/>
<circle cx="61.94" cy="227.59" r="0.78" fill="#b4b4b4"/>
<circle cx="72.79" cy="238.1" r="0.87" fill="#a8a8a8"/>
<circle cx="63.62" cy="238.78" r="0.9" fill="#b4b4b4"/>
<circle cx="59.82" cy="234.68" r="0.84" fill="#5e5e5e"/>
<circle cx="72.35" cy="238.18" r="0.8" fill="#b4b4b4"/>
<circle cx="61.31" cy="227.72" r="0.74" fill="#848484"/>
<circle cx="72.45" cy="229.28" r="0.68" fill="#b4b4b4"/>
<circle cx="61.02" cy="234.77" r="0.79" fill="#707070"/>
<circle cx="60.17" cy="227.93" r="0.74" fill="#9a9a9a"/>
<circle cx="82.58" cy="240.24" r="0.9" fill="#767676"/>
<circle cx="80.37" cy="233.34" r="0.99" fill="#4e4e4e"/>
<circle cx="69.2" cy="230.17" r="0.88" fill="#a8a8a8"/>
<circle cx="80.42" cy="226.12" r="0.4" fill="#a8a8a8"/>
<circle cx="62.7" cy="239.34" r="0.95" fill="#767676"/>
<circle cx="71.81" cy="232" r="0.85" fill="#4e4e4e"/>
<circle cx="64" cy="230.54" r="1.01" fill="#9a9a9a"/>
<circle cx="78.47" cy="225.27" r="0.57" fill="#5e5e5e"/>
<circle cx="62.78" cy="232.93" r="0.93" fill="#767676"/>
<circle cx="63.13" cy="239.31" r="0.46" fill="#9a9a9a"/>
<circle cx="69.88" cy="225.6" r="0.56" fill="#767676"/>
<circle cx="81.95" cy="229.3" r="0.61" fill="#4e4e4e"/>
<circle cx="71.19" cy="233.31" r="1.13" fill="#6a6a6a"/>
<circle cx="82.55" cy="236.13" r="0.67" fill="#9a9a9a"/>
<circle cx="61.09" cy="239.17" r="0.7" fill="#767676"/>
<circle cx="68.31" cy="232.59" r="0.6" fill="#9a9a9a"/>
<circle cx="60.19" cy="233.18" r="0.48" fill="#a8a8a8"/>
<circle cx="68.66" cy="237.79" r="0.78" fill="#9a9a9a"/>
<circle cx="65.07" cy="234.74" r="0.61" fill="#a8a8a8"/>
<circle cx="59.67" cy="227.45" r="0.61" fill="#4e4e4e"/>
<circle cx="60.1" cy="238.69" r="0.99" fill="#707070"/>
<circle cx="59.64" cy="240.66" r="0.95" fill="#4e4e4e"/>
<circle cx="81.54" cy="240.53" r="0.47" fill="#4e4e4e"/>
<circle cx="77.01" cy="228.26" r="0.61" fill="#4e4e4e"/>
<circle cx="80.38" cy="228.73" r="0.58" fill="#a8a8a8"/>
<circle cx="62.26" cy="232.78" r="1" fill="#b4b4b4"/>
<circle cx="65.06" cy="225.39" r="0.93" fill="#707070"/>
<circle cx="66.25" cy="234.56" r="0.88" fill="#a8a8a8"/>
<circle cx="72.56" cy="237.42" r="0.83" fill="#707070"/>
<circle cx="77.78" cy="239.16" r="0.95" fill="#a8a8a8"/>
<circle cx="68.31" cy="232.36" r="0.79" fill="#b4b4b4"/>
<circle cx="80.63" cy="236.39" r="0.53" fill="#848484"/>
<circle cx="78.17" cy="225.99" r="0.7" fill="#a8a8a8"/>
<circle cx="78.44" cy="235.21" r="0.61" fill="#9a9a9a"/>
<circle cx="79.05" cy="236.55" r="0.94" fill="#6a6a6a"/>
<circle cx="77.2" cy="229.34" r="0.43" fill="#6a6a6a"/>
<circle cx="71.41" cy="233.19" r="0.53" fill="#9a9a9a"/>
<circle cx="82.26" cy="224.1" r="0.58" fill="#4e4e4e"/>
<circle cx="63.97" cy="238.99" r="0.4" fill="#848484"/>
<circle cx="80.87" cy="231.69" r="0.48" fill="#9a9a9a"/>
<circle cx="65.47" cy="233.13" r="0.68" fill="#a8a8a8"/>
<circle cx="63.83" cy="228.78" r="0.62" fill="#848484"/>
<circle cx="62.15" cy="227.1" r="0.78" fill="#a8a8a8"/>
<circle cx="61.52" cy="226.23" r="0.47" fill="#a8a8a8"/>
<circle cx="63.27" cy="235.6" r="0.91" fill="#4e4e4e"/>
<circle cx="78.49" cy="226.4" r="0.93" fill="#5e5e5e"/>
<circle cx="74.54" cy="226.14" r="0.52" fill="#b4b4b4"/>
<circle cx="66.69" cy="240.44" r="1.03" fill="#9a9a9a"/>
<circle cx="74.95" cy="238.93" r="0.53" fill="#6a6a6a"/>
<circle cx="75.65" cy="230.17" r="0.93" fill="#b4b4b4"/>
<circle cx="73.48" cy="235.19" r="0.5" fill="#4e4e4e"/>
</g>
<line x1="70.4" y1="222.5" x2="70.4" y2="251.5" stroke="#ee1d25" stroke-width="1.5" />
<path d="M67.9,224.6 L72.9,224.6 L70.4,219.2 Z" stroke="none" fill="#ee1d25" stroke-width="0.8" />
<path d="M67.9,249.2 L72.9,249.2 L70.4,254.6 Z" stroke="none" fill="#ee1d25" stroke-width="0.8" />
<text x="70.9" y="266.7" font-size="7.3" fill="#222" text-anchor="middle" textLength="45.8" lengthAdjust="spacingAndGlyphs">500 μM <tspan font-size="5.2">L</tspan>-Asp</text>
<text x="70.6" y="275.3" font-size="7.4" fill="#222" text-anchor="middle" textLength="35" lengthAdjust="spacingAndGlyphs">equivalent</text>
<text x="70.65" y="283.8" font-size="7.4" fill="#222" text-anchor="middle" textLength="33.9" lengthAdjust="spacingAndGlyphs">buffer/salt</text>
<rect x="365.8" y="178" width="6" height="5.6" fill="#000" stroke="none" stroke-width="0.8" />
<text x="353.6" y="183.4" font-size="7.2" fill="#222" textLength="9.2" lengthAdjust="spacingAndGlyphs">pH</text>
<text x="372.6" y="183.4" font-size="7.2" fill="#222" textLength="6.4" lengthAdjust="spacingAndGlyphs">6,</text>
<circle cx="384.4" cy="180.8" r="2.9" fill="#000" stroke="none" stroke-width="0.8" />
<text x="388" y="183.4" font-size="7.2" fill="#222" textLength="16" lengthAdjust="spacingAndGlyphs">7, or</text>
<path d="M408.5,177.6 L411.8,183.6 L405.2,183.6 Z" stroke="none" fill="#000" stroke-width="0.8" />
<text x="413.4" y="183.4" font-size="7.2" fill="#222" textLength="4" lengthAdjust="spacingAndGlyphs">8</text>
<circle cx="343.5" cy="193" r="3" fill="#fff" stroke="#000" stroke-width="0.8" />
<text x="353.6" y="195.6" font-size="7.2" fill="#222" textLength="65.2" lengthAdjust="spacingAndGlyphs">pH 7, 500 μM <tspan font-size="5.2">L</tspan>-Asp</text>
<text x="345.4" y="216.9" font-size="8.6" fill="#ee1d25" textLength="66.4" lengthAdjust="spacingAndGlyphs">0.5 μM [<tspan font-size="5.8" dy="-3.2">3</tspan><tspan dy="3.2">H]</tspan><tspan font-size="5.4">L</tspan>-Asp</text>
<circle cx="380.5" cy="263.5" r="33.6" fill="none" stroke="#000" stroke-width="1.45" />
<defs><clipPath id="pc3"><path d="M380.28,232.9 L379.79,236.23 L379.78,237.97 L379.47,239.25 L378.78,239.99 L377.94,240.46 L377.05,241.07 L375.64,241.43 L372.37,240.66 L370.71,241.3 L369.88,240.51 L368.99,240.11 L368.74,238.84 L368.08,237.96 L368.53,235.96 L367.65,232.9 L367.6,229.31 L368.22,227.96 L368.33,226.49 L369.45,226.36 L369.68,224.92 L371.14,225.61 L372.24,224.52 L375.49,225.08 L377.06,224.71 L377.69,225.81 L378.69,225.95 L378.93,227.17 L379.99,227.65 L379.33,229.83 Z M391.13,232.9 L391.72,236.39 L391.66,238.17 L390.8,238.89 L390.17,239.61 L389.36,240.02 L388.71,241.09 L387.13,240.67 L384.03,240.61 L382.28,241.51 L381.67,240.26 L380.61,240.14 L380.01,239.28 L379.91,237.81 L379.35,236.44 L380.12,232.9 L379.48,229.44 L379.52,227.65 L380.56,227.15 L380.84,225.99 L381.59,225.4 L382.64,225.22 L384.06,225.36 L387.33,224.17 L388.47,225.32 L389.55,225.42 L390.11,226.28 L391,226.68 L391.56,227.72 L391.4,229.59 Z "/></clipPath></defs>
<path d="M380.28,232.9 L379.79,236.23 L379.78,237.97 L379.47,239.25 L378.78,239.99 L377.94,240.46 L377.05,241.07 L375.64,241.43 L372.37,240.66 L370.71,241.3 L369.88,240.51 L368.99,240.11 L368.74,238.84 L368.08,237.96 L368.53,235.96 L367.65,232.9 L367.6,229.31 L368.22,227.96 L368.33,226.49 L369.45,226.36 L369.68,224.92 L371.14,225.61 L372.24,224.52 L375.49,225.08 L377.06,224.71 L377.69,225.81 L378.69,225.95 L378.93,227.17 L379.99,227.65 L379.33,229.83 Z M391.13,232.9 L391.72,236.39 L391.66,238.17 L390.8,238.89 L390.17,239.61 L389.36,240.02 L388.71,241.09 L387.13,240.67 L384.03,240.61 L382.28,241.51 L381.67,240.26 L380.61,240.14 L380.01,239.28 L379.91,237.81 L379.35,236.44 L380.12,232.9 L379.48,229.44 L379.52,227.65 L380.56,227.15 L380.84,225.99 L381.59,225.4 L382.64,225.22 L384.06,225.36 L387.33,224.17 L388.47,225.32 L389.55,225.42 L390.11,226.28 L391,226.68 L391.56,227.72 L391.4,229.59 Z " fill="#828282"/>
<g clip-path="url(#pc3)">
<circle cx="379.29" cy="238.24" r="0.94" fill="#707070"/>
<circle cx="377.95" cy="240.14" r="0.66" fill="#b4b4b4"/>
<circle cx="370.57" cy="234.32" r="0.48" fill="#707070"/>
<circle cx="382.26" cy="229.82" r="0.44" fill="#4e4e4e"/>
<circle cx="373.08" cy="234.34" r="1.06" fill="#9a9a9a"/>
<circle cx="372.96" cy="236.29" r="0.49" fill="#4e4e4e"/>
<circle cx="387.32" cy="241.18" r="0.54" fill="#4e4e4e"/>
<circle cx="387.82" cy="238.58" r="0.62" fill="#a8a8a8"/>
<circle cx="371.57" cy="229.92" r="0.6" fill="#767676"/>
<circle cx="377.96" cy="227.27" r="0.88" fill="#767676"/>
<circle cx="379.32" cy="241.51" r="0.89" fill="#5e5e5e"/>
<circle cx="372.98" cy="224.81" r="0.69" fill="#a8a8a8"/>
<circle cx="380.51" cy="229.61" r="0.63" fill="#848484"/>
<circle cx="378.56" cy="239.95" r="0.78" fill="#767676"/>
<circle cx="384.16" cy="238.92" r="0.4" fill="#a8a8a8"/>
<circle cx="390.97" cy="241.02" r="0.54" fill="#6a6a6a"/>
<circle cx="380.4" cy="241.04" r="0.65" fill="#848484"/>
<circle cx="369.61" cy="233.47" r="0.51" fill="#848484"/>
<circle cx="369.16" cy="231.8" r="1.12" fill="#767676"/>
<circle cx="382.67" cy="233.69" r="0.48" fill="#767676"/>
<circle cx="368.14" cy="235.72" r="0.57" fill="#a8a8a8"/>
<circle cx="371.8" cy="233.15" r="0.64" fill="#9a9a9a"/>
<circle cx="381.83" cy="228.39" r="0.94" fill="#5e5e5e"/>
<circle cx="382.12" cy="227.34" r="0.45" fill="#4e4e4e"/>
<circle cx="375.62" cy="231.25" r="1.01" fill="#767676"/>
<circle cx="390.33" cy="227.65" r="1" fill="#707070"/>
<circle cx="390.46" cy="232.19" r="0.85" fill="#707070"/>
<circle cx="389.64" cy="239.7" r="0.6" fill="#6a6a6a"/>
<circle cx="384.77" cy="226.24" r="1.07" fill="#6a6a6a"/>
<circle cx="368.29" cy="238.88" r="0.59" fill="#707070"/>
<circle cx="387.17" cy="241.08" r="1.11" fill="#6a6a6a"/>
<circle cx="369.76" cy="226.3" r="0.5" fill="#767676"/>
<circle cx="385.29" cy="234.72" r="1.04" fill="#6a6a6a"/>
<circle cx="384.24" cy="236.03" r="0.56" fill="#767676"/>
<circle cx="376.37" cy="232.31" r="0.48" fill="#848484"/>
<circle cx="386.96" cy="230.36" r="0.85" fill="#b4b4b4"/>
<circle cx="379.11" cy="236.23" r="0.75" fill="#9a9a9a"/>
<circle cx="387.67" cy="235.56" r="0.46" fill="#b4b4b4"/>
<circle cx="371.49" cy="240.86" r="0.63" fill="#767676"/>
<circle cx="371.07" cy="229.83" r="0.71" fill="#a8a8a8"/>
<circle cx="377.13" cy="227.26" r="1.11" fill="#9a9a9a"/>
<circle cx="380.18" cy="235.39" r="0.82" fill="#b4b4b4"/>
<circle cx="390.85" cy="230.18" r="1.05" fill="#6a6a6a"/>
<circle cx="381.06" cy="225.03" r="0.75" fill="#a8a8a8"/>
<circle cx="372.45" cy="237.55" r="0.73" fill="#767676"/>
<circle cx="377.71" cy="234.25" r="0.72" fill="#4e4e4e"/>
<circle cx="373.55" cy="230.6" r="1.06" fill="#5e5e5e"/>
<circle cx="378.4" cy="229.85" r="1.09" fill="#707070"/>
<circle cx="378.81" cy="225.09" r="0.52" fill="#848484"/>
<circle cx="370.38" cy="235.92" r="1.09" fill="#9a9a9a"/>
<circle cx="381.48" cy="238.21" r="0.76" fill="#707070"/>
<circle cx="377.84" cy="226.95" r="1.02" fill="#707070"/>
<circle cx="389.09" cy="231.51" r="0.57" fill="#b4b4b4"/>
<circle cx="371.71" cy="237.7" r="0.59" fill="#5e5e5e"/>
<circle cx="382.62" cy="232.16" r="0.83" fill="#4e4e4e"/>
<circle cx="369.72" cy="235.35" r="0.72" fill="#a8a8a8"/>
<circle cx="384.3" cy="225.47" r="1.06" fill="#5e5e5e"/>
<circle cx="387.6" cy="228.36" r="0.49" fill="#707070"/>
<circle cx="385.9" cy="228.59" r="0.57" fill="#4e4e4e"/>
<circle cx="371.9" cy="235.02" r="0.5" fill="#6a6a6a"/>
<circle cx="376.98" cy="234.75" r="0.44" fill="#707070"/>
<circle cx="368.23" cy="234.8" r="1.01" fill="#848484"/>
<circle cx="383.74" cy="233.6" r="1.13" fill="#4e4e4e"/>
<circle cx="368.72" cy="232.11" r="1" fill="#9a9a9a"/>
<circle cx="371.21" cy="233.89" r="1.01" fill="#6a6a6a"/>
<circle cx="389.43" cy="225.98" r="1.04" fill="#4e4e4e"/>
<circle cx="389.94" cy="241.27" r="0.48" fill="#5e5e5e"/>
<circle cx="378.04" cy="237.06" r="1.12" fill="#a8a8a8"/>
<circle cx="375.06" cy="237.89" r="1.15" fill="#4e4e4e"/>
<circle cx="383.35" cy="234.06" r="1.13" fill="#767676"/>
<circle cx="375.85" cy="234.75" r="0.58" fill="#707070"/>
<circle cx="369.46" cy="231.74" r="0.58" fill="#9a9a9a"/>
<circle cx="382.46" cy="230.97" r="0.56" fill="#4e4e4e"/>
<circle cx="377.72" cy="231.02" r="0.88" fill="#5e5e5e"/>
<circle cx="384.25" cy="240.94" r="0.53" fill="#9a9a9a"/>
<circle cx="380.88" cy="225.85" r="0.95" fill="#9a9a9a"/>
<circle cx="377.64" cy="231.95" r="1.12" fill="#b4b4b4"/>
<circle cx="384.11" cy="239.82" r="0.82" fill="#848484"/>
<circle cx="368.26" cy="227.26" r="1" fill="#a8a8a8"/>
<circle cx="369.97" cy="227.39" r="0.73" fill="#6a6a6a"/>
<circle cx="369.36" cy="231.68" r="0.53" fill="#a8a8a8"/>
<circle cx="375.69" cy="229.13" r="1.14" fill="#b4b4b4"/>
<circle cx="383.01" cy="241.27" r="0.64" fill="#9a9a9a"/>
<circle cx="374.5" cy="238.33" r="0.82" fill="#b4b4b4"/>
<circle cx="380.02" cy="239.27" r="1.09" fill="#9a9a9a"/>
<circle cx="391.06" cy="241.44" r="0.77" fill="#a8a8a8"/>
<circle cx="368.87" cy="228.7" r="0.87" fill="#6a6a6a"/>
<circle cx="385.16" cy="236.29" r="0.6" fill="#a8a8a8"/>
<circle cx="381.93" cy="239.82" r="0.69" fill="#a8a8a8"/>
<circle cx="385.26" cy="240.31" r="0.7" fill="#4e4e4e"/>
<circle cx="372.63" cy="241.49" r="1.13" fill="#767676"/>
<circle cx="371.33" cy="241.5" r="0.57" fill="#9a9a9a"/>
<circle cx="387.94" cy="229.56" r="0.93" fill="#a8a8a8"/>
<circle cx="371.8" cy="226.02" r="1.1" fill="#6a6a6a"/>
<circle cx="390.38" cy="241.15" r="0.43" fill="#6a6a6a"/>
<circle cx="380.3" cy="236.93" r="1.12" fill="#a8a8a8"/>
<circle cx="382.27" cy="225.61" r="0.67" fill="#848484"/>
<circle cx="380.44" cy="227.02" r="0.68" fill="#767676"/>
<circle cx="390.79" cy="229.21" r="0.68" fill="#4e4e4e"/>
<circle cx="390.07" cy="229.85" r="0.91" fill="#707070"/>
<circle cx="381.84" cy="224.58" r="0.5" fill="#b4b4b4"/>
<circle cx="389.17" cy="229.34" r="1" fill="#848484"/>
<circle cx="389.06" cy="225.4" r="0.79" fill="#a8a8a8"/>
<circle cx="368.3" cy="230.18" r="0.59" fill="#a8a8a8"/>
<circle cx="384.91" cy="234.58" r="0.65" fill="#9a9a9a"/>
<circle cx="381.14" cy="235.86" r="0.47" fill="#6a6a6a"/>
<circle cx="385.75" cy="232.06" r="0.74" fill="#707070"/>
<circle cx="376.8" cy="235.84" r="0.76" fill="#4e4e4e"/>
<circle cx="374.03" cy="229.77" r="0.49" fill="#a8a8a8"/>
<circle cx="375.82" cy="230.92" r="0.99" fill="#4e4e4e"/>
<circle cx="387.34" cy="233.68" r="0.49" fill="#707070"/>
<circle cx="380.02" cy="237.37" r="0.78" fill="#767676"/>
<circle cx="390.42" cy="235.63" r="0.45" fill="#4e4e4e"/>
<circle cx="382.81" cy="227.13" r="1.06" fill="#9a9a9a"/>
<circle cx="391.35" cy="235.52" r="0.53" fill="#707070"/>
<circle cx="384.75" cy="226.22" r="0.77" fill="#a8a8a8"/>
<circle cx="387.97" cy="228.11" r="0.43" fill="#4e4e4e"/>
<circle cx="371.04" cy="240.41" r="0.96" fill="#5e5e5e"/>
<circle cx="386.21" cy="231.54" r="0.4" fill="#767676"/>
<circle cx="380.54" cy="235.97" r="0.69" fill="#5e5e5e"/>
<circle cx="377.11" cy="233.78" r="0.83" fill="#a8a8a8"/>
<circle cx="384.8" cy="231.4" r="1.05" fill="#4e4e4e"/>
<circle cx="375.43" cy="227.18" r="0.43" fill="#b4b4b4"/>
<circle cx="378.73" cy="238.78" r="1.09" fill="#5e5e5e"/>
<circle cx="383.63" cy="236.94" r="0.67" fill="#848484"/>
<circle cx="384.33" cy="225.7" r="0.73" fill="#b4b4b4"/>
<circle cx="385.06" cy="237.4" r="0.58" fill="#5e5e5e"/>
<circle cx="390.69" cy="226.78" r="1.06" fill="#9a9a9a"/>
<circle cx="378.32" cy="225.76" r="0.49" fill="#a8a8a8"/>
<circle cx="373.46" cy="226" r="0.51" fill="#b4b4b4"/>
<circle cx="383.31" cy="224.52" r="0.45" fill="#6a6a6a"/>
<circle cx="386.33" cy="241.35" r="0.67" fill="#5e5e5e"/>
<circle cx="384.42" cy="234.13" r="0.48" fill="#707070"/>
<circle cx="370.62" cy="231.92" r="0.51" fill="#6a6a6a"/>
<circle cx="380.39" cy="235.59" r="0.42" fill="#a8a8a8"/>
<circle cx="371.3" cy="227.89" r="1.08" fill="#707070"/>
<circle cx="384.03" cy="239.46" r="1.12" fill="#848484"/>
<circle cx="386.14" cy="228.92" r="0.89" fill="#767676"/>
<circle cx="382.57" cy="238.46" r="0.7" fill="#a8a8a8"/>
<circle cx="374.52" cy="225.2" r="0.67" fill="#a8a8a8"/>
<circle cx="387.29" cy="230.08" r="1.09" fill="#9a9a9a"/>
<circle cx="390.44" cy="232.01" r="0.42" fill="#b4b4b4"/>
<circle cx="382.2" cy="240.5" r="0.94" fill="#767676"/>
<circle cx="391.09" cy="230.32" r="0.79" fill="#b4b4b4"/>
<circle cx="384.84" cy="227.92" r="0.91" fill="#4e4e4e"/>
<circle cx="378.18" cy="238.38" r="0.49" fill="#9a9a9a"/>
<circle cx="384.58" cy="225.87" r="0.96" fill="#b4b4b4"/>
<circle cx="369.14" cy="231.44" r="1.09" fill="#848484"/>
<circle cx="368.76" cy="241.38" r="1.03" fill="#767676"/>
<circle cx="376.75" cy="227.05" r="0.58" fill="#b4b4b4"/>
<circle cx="367.97" cy="239.14" r="0.83" fill="#6a6a6a"/>
<circle cx="382.51" cy="234.29" r="1" fill="#b4b4b4"/>
<circle cx="389.97" cy="236.81" r="1.09" fill="#5e5e5e"/>
<circle cx="387.35" cy="238.46" r="0.71" fill="#707070"/>
<circle cx="369.19" cy="232.35" r="0.69" fill="#a8a8a8"/>
<circle cx="391.19" cy="225.66" r="0.42" fill="#4e4e4e"/>
<circle cx="389" cy="235.97" r="0.88" fill="#9a9a9a"/>
<circle cx="370.33" cy="240.62" r="0.72" fill="#4e4e4e"/>
<circle cx="388.45" cy="230.29" r="0.6" fill="#848484"/>
<circle cx="387.12" cy="241.45" r="0.74" fill="#848484"/>
<circle cx="377.3" cy="233.66" r="0.79" fill="#b4b4b4"/>
<circle cx="384.86" cy="229.14" r="0.83" fill="#848484"/>
<circle cx="373.2" cy="239.88" r="0.83" fill="#5e5e5e"/>
<circle cx="368.29" cy="227.64" r="0.74" fill="#707070"/>
<circle cx="379.75" cy="233.16" r="0.53" fill="#848484"/>
<circle cx="380.16" cy="235.72" r="0.48" fill="#9a9a9a"/>
<circle cx="368.6" cy="238.03" r="0.95" fill="#707070"/>
<circle cx="381.96" cy="225.98" r="0.71" fill="#9a9a9a"/>
<circle cx="386.26" cy="229.71" r="1.11" fill="#9a9a9a"/>
<circle cx="376.81" cy="233.48" r="0.71" fill="#707070"/>
</g>
<line x1="379.6" y1="222" x2="379.6" y2="250.5" stroke="#ee1d25" stroke-width="1.5" />
<path d="M377.1,224.2 L382.1,224.2 L379.6,218.8 Z" stroke="none" fill="#ee1d25" stroke-width="0.8" />
<path d="M377.1,248.4 L382.1,248.4 L379.6,253.8 Z" stroke="none" fill="#ee1d25" stroke-width="0.8" />
<text x="379.85" y="266.4" font-size="7.2" fill="#222" text-anchor="middle" textLength="46.5" lengthAdjust="spacingAndGlyphs">500 μM <tspan font-size="5.2">L</tspan>-Asp</text>
<text x="379.75" y="274.9" font-size="7.4" fill="#222" text-anchor="middle" textLength="29.9" lengthAdjust="spacingAndGlyphs">same pH</text>
<text x="379.75" y="283.1" font-size="7.4" fill="#222" text-anchor="middle" textLength="19.7" lengthAdjust="spacingAndGlyphs">buffer</text>
<line x1="162.4" y1="210.1" x2="162.4" y2="317.1" stroke="#707070" stroke-width="0.7" />
<text x="153.6" y="319.55" font-size="6.9" fill="#333" text-anchor="end">0</text>
<line x1="157.4" y1="290.35" x2="162.4" y2="290.35" stroke="#707070" stroke-width="0.7" />
<text x="153.6" y="292.8" font-size="6.9" fill="#333" text-anchor="end">1</text>
<line x1="157.4" y1="263.6" x2="162.4" y2="263.6" stroke="#707070" stroke-width="0.7" />
<text x="153.6" y="266.05" font-size="6.9" fill="#333" text-anchor="end">2</text>
<line x1="157.4" y1="236.85" x2="162.4" y2="236.85" stroke="#707070" stroke-width="0.7" />
<text x="153.6" y="239.3" font-size="6.9" fill="#333" text-anchor="end">3</text>
<line x1="157.4" y1="210.1" x2="162.4" y2="210.1" stroke="#707070" stroke-width="0.7" />
<text x="153.6" y="212.55" font-size="6.9" fill="#333" text-anchor="end">4</text>
<line x1="157.5" y1="317" x2="234" y2="317" stroke="#a8a8a8" stroke-width="0.85" />
<line x1="176.9" y1="317.1" x2="176.9" y2="321.3" stroke="#707070" stroke-width="0.7" />
<line x1="198.4" y1="317.1" x2="198.4" y2="321.3" stroke="#707070" stroke-width="0.7" />
<line x1="219.8" y1="317.1" x2="219.8" y2="321.3" stroke="#707070" stroke-width="0.7" />
<text transform="translate(140.6,263.4) rotate(-90)" x="0" y="0" font-size="8.2" fill="#333" text-anchor="middle" textLength="48.8" lengthAdjust="spacingAndGlyphs">Counts (10<tspan font-size="5" dy="-3">4</tspan><tspan dy="3">)</tspan></text>
<text x="189.3" y="208.7" font-size="8.5" fill="#7265d3" textLength="14.9" lengthAdjust="spacingAndGlyphs">Anc</text>
<text x="205.1" y="206.1" font-size="5.6" fill="#7265d3" textLength="6.9" lengthAdjust="spacingAndGlyphs">Na</text>
<rect x="170.3" y="236.85" width="13.6" height="80.25" fill="#a297e4" stroke="#3d3478" stroke-width="0.8" />
<rect x="191.4" y="288.4" width="13.8" height="28.7" fill="#a297e4" stroke="#3d3478" stroke-width="0.8" />
<rect x="213.1" y="291" width="13.2" height="26.1" fill="#fff" stroke="#444" stroke-width="0.8" />
<line x1="176.9" y1="228.4" x2="176.9" y2="243.2" stroke="#222" stroke-width="0.7" />
<line x1="173.15" y1="228.4" x2="180.65" y2="228.4" stroke="#222" stroke-width="0.7" />
<line x1="173.15" y1="243.2" x2="180.65" y2="243.2" stroke="#222" stroke-width="0.7" />
<rect x="174.6" y="224.9" width="4.6" height="4.6" fill="#000" stroke="#000" stroke-width="0" />
<rect x="174.6" y="234.6" width="4.6" height="4.6" fill="#000" stroke="#000" stroke-width="0" />
<rect x="174.6" y="240.1" width="4.6" height="4.6" fill="#000" stroke="#000" stroke-width="0" />
<line x1="198.4" y1="283.5" x2="198.4" y2="294" stroke="#222" stroke-width="0.7" />
<line x1="194.65" y1="283.5" x2="202.15" y2="283.5" stroke="#222" stroke-width="0.7" />
<line x1="194.65" y1="294" x2="202.15" y2="294" stroke="#222" stroke-width="0.7" />
<circle cx="193.3" cy="284" r="2.3" fill="#000" stroke="none" stroke-width="0.8" />
<circle cx="203.4" cy="286.4" r="2.3" fill="#000" stroke="none" stroke-width="0.8" />
<circle cx="198.4" cy="292.9" r="2.3" fill="#000" stroke="none" stroke-width="0.8" />
<line x1="219.8" y1="289.2" x2="219.8" y2="292.6" stroke="#444" stroke-width="0.6" />
<circle cx="215.5" cy="291.4" r="1.8" fill="#fff" stroke="#333" stroke-width="0.6" />
<circle cx="219.9" cy="289.4" r="1.8" fill="#fff" stroke="#333" stroke-width="0.6" />
<circle cx="223.4" cy="289.9" r="1.8" fill="#fff" stroke="#333" stroke-width="0.6" />
<text x="171.8" y="331.8" font-size="6.8" fill="#333" textLength="8.4" lengthAdjust="spacingAndGlyphs">Na</text>
<text x="180.4" y="330" font-size="5.2" fill="#333">+</text>
<text x="190.8" y="331.8" font-size="6.8" fill="#333" textLength="13.3" lengthAdjust="spacingAndGlyphs">Cho</text>
<text x="204.3" y="330" font-size="5.2" fill="#333">+</text>
<text x="212.6" y="331.8" font-size="6.8" fill="#333" textLength="13.3" lengthAdjust="spacingAndGlyphs">Cho</text>
<text x="226.1" y="330" font-size="5.2" fill="#333">+</text>
<text x="211.2" y="341.3" font-size="6.8" fill="#333" textLength="16.4" lengthAdjust="spacingAndGlyphs"><tspan font-size="4.8">L</tspan>-Asp</text>
<line x1="255.2" y1="209.7" x2="255.2" y2="316.7" stroke="#707070" stroke-width="0.7" />
<line x1="250.2" y1="289.95" x2="255.2" y2="289.95" stroke="#707070" stroke-width="0.7" />
<line x1="250.2" y1="263.2" x2="255.2" y2="263.2" stroke="#707070" stroke-width="0.7" />
<line x1="250.2" y1="236.45" x2="255.2" y2="236.45" stroke="#707070" stroke-width="0.7" />
<line x1="250.2" y1="209.7" x2="255.2" y2="209.7" stroke="#707070" stroke-width="0.7" />
<line x1="250" y1="316.6" x2="326.9" y2="316.6" stroke="#a8a8a8" stroke-width="0.85" />
<line x1="269.8" y1="316.7" x2="269.8" y2="320.9" stroke="#707070" stroke-width="0.7" />
<line x1="290.9" y1="316.7" x2="290.9" y2="320.9" stroke="#707070" stroke-width="0.7" />
<line x1="312.2" y1="316.7" x2="312.2" y2="320.9" stroke="#707070" stroke-width="0.7" />
<text x="281.8" y="208.8" font-size="8.5" fill="#5ec86e" textLength="15" lengthAdjust="spacingAndGlyphs">Anc</text>
<text x="297.4" y="205" font-size="5.6" fill="#5ec86e" textLength="6.3" lengthAdjust="spacingAndGlyphs">Int</text>
<rect x="263" y="258.4" width="13.8" height="58.3" fill="#8fd49a" stroke="#2c5a33" stroke-width="0.8" />
<rect x="284.3" y="263" width="13.3" height="53.7" fill="#8fd49a" stroke="#2c5a33" stroke-width="0.8" />
<rect x="305.6" y="291.1" width="13.9" height="25.6" fill="#fff" stroke="#999" stroke-width="0.8" />
<line x1="269.8" y1="247.3" x2="269.8" y2="268.6" stroke="#222" stroke-width="0.7" />
<line x1="266.2" y1="247.3" x2="273.4" y2="247.3" stroke="#222" stroke-width="0.7" />
<line x1="266.2" y1="268.6" x2="273.4" y2="268.6" stroke="#222" stroke-width="0.7" />
<rect x="267.3" y="243.3" width="4.6" height="4.6" fill="#000" stroke="#000" stroke-width="0" />
<rect x="262.3" y="263.7" width="4.6" height="4.6" fill="#000" stroke="#000" stroke-width="0" />
<rect x="272.5" y="260.4" width="4.6" height="4.6" fill="#000" stroke="#000" stroke-width="0" />
<line x1="290.9" y1="259.5" x2="290.9" y2="264.5" stroke="#222" stroke-width="0.7" />
<line x1="287.65" y1="259.5" x2="294.15" y2="259.5" stroke="#222" stroke-width="0.7" />
<line x1="287.65" y1="264.5" x2="294.15" y2="264.5" stroke="#222" stroke-width="0.7" />
<circle cx="285.8" cy="262.7" r="2.3" fill="#000" stroke="none" stroke-width="0.8" />
<circle cx="291.2" cy="258.6" r="2.3" fill="#000" stroke="none" stroke-width="0.8" />
<circle cx="296" cy="262.4" r="2.3" fill="#000" stroke="none" stroke-width="0.8" />
<circle cx="307.4" cy="291.6" r="1.8" fill="#fff" stroke="#333" stroke-width="0.6" />
<circle cx="311.6" cy="289.6" r="1.8" fill="#fff" stroke="#333" stroke-width="0.6" />
<circle cx="315.2" cy="290" r="1.8" fill="#fff" stroke="#333" stroke-width="0.6" />
<text x="264.7" y="331.8" font-size="6.8" fill="#333" textLength="8.4" lengthAdjust="spacingAndGlyphs">Na</text>
<text x="273.3" y="330" font-size="5.2" fill="#333">+</text>
<text x="283.8" y="331.8" font-size="6.8" fill="#333" textLength="13.3" lengthAdjust="spacingAndGlyphs">Cho</text>
<text x="297.3" y="330" font-size="5.2" fill="#333">+</text>
<text x="305.1" y="331.8" font-size="6.8" fill="#333" textLength="13.3" lengthAdjust="spacingAndGlyphs">Cho</text>
<text x="318.6" y="330" font-size="5.2" fill="#333">+</text>
<text x="304.3" y="341.3" font-size="6.8" fill="#333" textLength="15.8" lengthAdjust="spacingAndGlyphs"><tspan font-size="4.8">L</tspan>-Asp</text>
<line x1="462.3" y1="209.4" x2="462.3" y2="316.5" stroke="#707070" stroke-width="0.7" />
<text x="453.4" y="318.95" font-size="6.9" fill="#333" text-anchor="end">0</text>
<line x1="457.3" y1="298.65" x2="462.3" y2="298.65" stroke="#707070" stroke-width="0.7" />
<text x="453.4" y="301.1" font-size="6.9" fill="#333" text-anchor="end">1</text>
<line x1="457.3" y1="280.8" x2="462.3" y2="280.8" stroke="#707070" stroke-width="0.7" />
<text x="453.4" y="283.25" font-size="6.9" fill="#333" text-anchor="end">2</text>
<line x1="457.3" y1="262.95" x2="462.3" y2="262.95" stroke="#707070" stroke-width="0.7" />
<text x="453.4" y="265.4" font-size="6.9" fill="#333" text-anchor="end">3</text>
<line x1="457.3" y1="245.1" x2="462.3" y2="245.1" stroke="#707070" stroke-width="0.7" />
<text x="453.4" y="247.55" font-size="6.9" fill="#333" text-anchor="end">4</text>
<line x1="457.3" y1="227.25" x2="462.3" y2="227.25" stroke="#707070" stroke-width="0.7" />
<text x="453.4" y="229.7" font-size="6.9" fill="#333" text-anchor="end">5</text>
<line x1="457.3" y1="209.4" x2="462.3" y2="209.4" stroke="#707070" stroke-width="0.7" />
<text x="453.4" y="211.85" font-size="6.9" fill="#333" text-anchor="end">6</text>
<line x1="457.2" y1="316.4" x2="556.4" y2="316.4" stroke="#a8a8a8" stroke-width="0.85" />
<line x1="476.4" y1="316.5" x2="476.4" y2="320.7" stroke="#707070" stroke-width="0.7" />
<line x1="498.2" y1="316.5" x2="498.2" y2="320.7" stroke="#707070" stroke-width="0.7" />
<line x1="519.6" y1="316.5" x2="519.6" y2="320.7" stroke="#707070" stroke-width="0.7" />
<line x1="541.5" y1="316.5" x2="541.5" y2="320.7" stroke="#707070" stroke-width="0.7" />
<text transform="translate(440.7,263.8) rotate(-90)" x="0" y="0" font-size="8.2" fill="#333" text-anchor="middle" textLength="49.6" lengthAdjust="spacingAndGlyphs">Counts (10<tspan font-size="5" dy="-3">4</tspan><tspan dy="3">)</tspan></text>
<text x="497" y="209.7" font-size="8.5" fill="#e0a595" textLength="16.7" lengthAdjust="spacingAndGlyphs">GltT</text>
<text x="514.1" y="211.9" font-size="5.6" fill="#e0a595" textLength="6.8" lengthAdjust="spacingAndGlyphs">Bc</text>
<rect x="470.5" y="234" width="13.5" height="82.5" fill="#6d4338" stroke="#3a221c" stroke-width="0.8" />
<rect x="491.3" y="260.7" width="13.8" height="55.8" fill="#dba393" stroke="#8a5a4e" stroke-width="0.8" />
<rect x="513.4" y="299.2" width="13.5" height="17.3" fill="#f6e0d9" stroke="#8a6a60" stroke-width="0.8" />
<rect x="534.8" y="299" width="13.5" height="17.5" fill="#fff" stroke="#999" stroke-width="0.8" />
<line x1="477.2" y1="216" x2="477.2" y2="250.3" stroke="#444" stroke-width="0.7" />
<line x1="473.2" y1="216" x2="481.2" y2="216" stroke="#444" stroke-width="0.7" />
<line x1="473.2" y1="250.3" x2="481.2" y2="250.3" stroke="#444" stroke-width="0.7" />
<rect x="474.6" y="211.4" width="4.6" height="4.6" fill="#000" stroke="#000" stroke-width="0" />
<rect x="469.6" y="241" width="4.6" height="4.6" fill="#000" stroke="#000" stroke-width="0" />
<rect x="479.7" y="241" width="4.6" height="4.6" fill="#000" stroke="#000" stroke-width="0" />
<line x1="498.2" y1="243.8" x2="498.2" y2="275.2" stroke="#222" stroke-width="0.7" />
<line x1="494.2" y1="243.8" x2="502.2" y2="243.8" stroke="#222" stroke-width="0.7" />
<line x1="494.2" y1="275.2" x2="502.2" y2="275.2" stroke="#222" stroke-width="0.7" />
<circle cx="498" cy="243.2" r="2.3" fill="#000" stroke="none" stroke-width="0.8" />
<circle cx="498" cy="265.3" r="2.3" fill="#000" stroke="none" stroke-width="0.8" />
<circle cx="498" cy="272.2" r="2.3" fill="#000" stroke="none" stroke-width="0.8" />
<line x1="520.1" y1="290.2" x2="520.1" y2="303.5" stroke="#222" stroke-width="0.7" />
<line x1="516.6" y1="290.2" x2="523.6" y2="290.2" stroke="#222" stroke-width="0.7" />
<line x1="516.6" y1="303.5" x2="523.6" y2="303.5" stroke="#222" stroke-width="0.7" />
<path d="M520.1,289.62 L522.3,293.58 L517.9,293.58 Z" stroke="none" fill="#000" stroke-width="0.8" />
<path d="M515.4,301.02 L517.6,304.98 L513.2,304.98 Z" stroke="none" fill="#000" stroke-width="0.8" />
<path d="M525,301.02 L527.2,304.98 L522.8,304.98 Z" stroke="none" fill="#000" stroke-width="0.8" />
<line x1="541.5" y1="282" x2="541.5" y2="315" stroke="#555" stroke-width="0.7" />
<line x1="538" y1="282" x2="545" y2="282" stroke="#555" stroke-width="0.7" />
<line x1="538" y1="315" x2="545" y2="315" stroke="#555" stroke-width="0.7" />
<circle cx="541.5" cy="282.2" r="2.2" fill="#fff" stroke="#333" stroke-width="0.6" />
<circle cx="536" cy="306.5" r="2.2" fill="#fff" stroke="#333" stroke-width="0.6" />
<circle cx="546.6" cy="306.5" r="2.2" fill="#fff" stroke="#333" stroke-width="0.6" />
<text x="476.6" y="332.2" font-size="7.1" fill="#333" text-anchor="middle">6</text>
<text x="498.2" y="332.2" font-size="7.1" fill="#333" text-anchor="middle">7</text>
<text x="519.6" y="332.2" font-size="7.1" fill="#333" text-anchor="middle">8</text>
<text x="541.5" y="332.2" font-size="7.1" fill="#333" text-anchor="middle">7</text>
<text x="532.7" y="340.6" font-size="6.8" fill="#333" textLength="17.1" lengthAdjust="spacingAndGlyphs"><tspan font-size="4.8">L</tspan>-Asp</text>
<line x1="591.5" y1="209.6" x2="591.5" y2="316.8" stroke="#707070" stroke-width="0.7" />
<text x="581.8" y="319.25" font-size="6.9" fill="#333" text-anchor="end">0</text>
<line x1="586.5" y1="290" x2="591.5" y2="290" stroke="#707070" stroke-width="0.7" />
<text x="581.8" y="292.45" font-size="6.9" fill="#333" text-anchor="end">0.5</text>
<line x1="586.5" y1="263.2" x2="591.5" y2="263.2" stroke="#707070" stroke-width="0.7" />
<text x="581.8" y="265.65" font-size="6.9" fill="#333" text-anchor="end">1.0</text>
<line x1="586.5" y1="236.4" x2="591.5" y2="236.4" stroke="#707070" stroke-width="0.7" />
<text x="581.8" y="238.85" font-size="6.9" fill="#333" text-anchor="end">1.5</text>
<line x1="586.5" y1="209.6" x2="591.5" y2="209.6" stroke="#707070" stroke-width="0.7" />
<text x="581.8" y="212.05" font-size="6.9" fill="#333" text-anchor="end">2.0</text>
<line x1="586.5" y1="316.7" x2="684.8" y2="316.7" stroke="#a8a8a8" stroke-width="0.85" />
<line x1="605.5" y1="316.8" x2="605.5" y2="321" stroke="#707070" stroke-width="0.7" />
<line x1="627" y1="316.8" x2="627" y2="321" stroke="#707070" stroke-width="0.7" />
<line x1="648.7" y1="316.8" x2="648.7" y2="321" stroke="#707070" stroke-width="0.7" />
<line x1="670.5" y1="316.8" x2="670.5" y2="321" stroke="#707070" stroke-width="0.7" />
<text x="627.6" y="209" font-size="8.5" fill="#5ec86e" textLength="15.6" lengthAdjust="spacingAndGlyphs">Anc</text>
<text x="643.8" y="205.2" font-size="5.6" fill="#5ec86e" textLength="6.4" lengthAdjust="spacingAndGlyphs">Int</text>
<rect x="598.8" y="240.5" width="13.4" height="76.3" fill="#3f6c48" stroke="#1e3a22" stroke-width="0.8" />
<rect x="620.3" y="226.1" width="13.3" height="90.7" fill="#92d49c" stroke="#2c5a33" stroke-width="0.8" />
<rect x="642" y="229.3" width="13.4" height="87.5" fill="#def3e1" stroke="#6a8a6e" stroke-width="0.8" />
<rect x="663.4" y="282" width="14.2" height="34.8" fill="#fff" stroke="#999" stroke-width="0.8" />
<line x1="605.5" y1="223" x2="605.5" y2="257.6" stroke="#222" stroke-width="0.7" />
<line x1="601.25" y1="223" x2="609.75" y2="223" stroke="#222" stroke-width="0.7" />
<line x1="601.25" y1="257.6" x2="609.75" y2="257.6" stroke="#222" stroke-width="0.7" />
<rect x="603.6" y="218.4" width="4.6" height="4.6" fill="#000" stroke="#000" stroke-width="0" />
<rect x="598.2" y="248.7" width="4.6" height="4.6" fill="#000" stroke="#000" stroke-width="0" />
<rect x="608.2" y="246.9" width="4.6" height="4.6" fill="#000" stroke="#000" stroke-width="0" />
<line x1="627" y1="217.6" x2="627" y2="234.2" stroke="#222" stroke-width="0.7" />
<line x1="623" y1="217.6" x2="631" y2="217.6" stroke="#222" stroke-width="0.7" />
<line x1="623" y1="234.2" x2="631" y2="234.2" stroke="#222" stroke-width="0.7" />
<circle cx="626.9" cy="216.7" r="2.3" fill="#000" stroke="none" stroke-width="0.8" />
<circle cx="622.2" cy="231.9" r="2.3" fill="#000" stroke="none" stroke-width="0.8" />
<circle cx="632.2" cy="229.3" r="2.3" fill="#000" stroke="none" stroke-width="0.8" />
<line x1="648.7" y1="215.5" x2="648.7" y2="241.7" stroke="#222" stroke-width="0.7" />
<line x1="644.45" y1="215.5" x2="652.95" y2="215.5" stroke="#222" stroke-width="0.7" />
<line x1="644.45" y1="241.7" x2="652.95" y2="241.7" stroke="#222" stroke-width="0.7" />
<path d="M643.9,218.92 L646.1,222.88 L641.7,222.88 Z" stroke="none" fill="#000" stroke-width="0.8" />
<path d="M653.3,220.82 L655.5,224.78 L651.1,224.78 Z" stroke="none" fill="#000" stroke-width="0.8" />
<path d="M648.6,242.02 L650.8,245.98 L646.4,245.98 Z" stroke="none" fill="#000" stroke-width="0.8" />
<circle cx="665.5" cy="283.8" r="2.2" fill="#fff" stroke="#333" stroke-width="0.6" />
<circle cx="669.9" cy="279.6" r="2.2" fill="#fff" stroke="#333" stroke-width="0.6" />
<circle cx="675" cy="280.8" r="2.2" fill="#fff" stroke="#333" stroke-width="0.6" />
<line x1="670.5" y1="278.4" x2="670.5" y2="285" stroke="#555" stroke-width="0.6" />
<text x="605.5" y="332.2" font-size="7.1" fill="#333" text-anchor="middle">6</text>
<text x="627" y="332.2" font-size="7.1" fill="#333" text-anchor="middle">7</text>
<text x="648.7" y="332.2" font-size="7.1" fill="#333" text-anchor="middle">8</text>
<text x="670.5" y="332.2" font-size="7.1" fill="#333" text-anchor="middle">7</text>
<text x="660.9" y="340.6" font-size="6.8" fill="#333" textLength="17.9" lengthAdjust="spacingAndGlyphs"><tspan font-size="4.8">L</tspan>-Asp</text>
</svg>
</body></html>
